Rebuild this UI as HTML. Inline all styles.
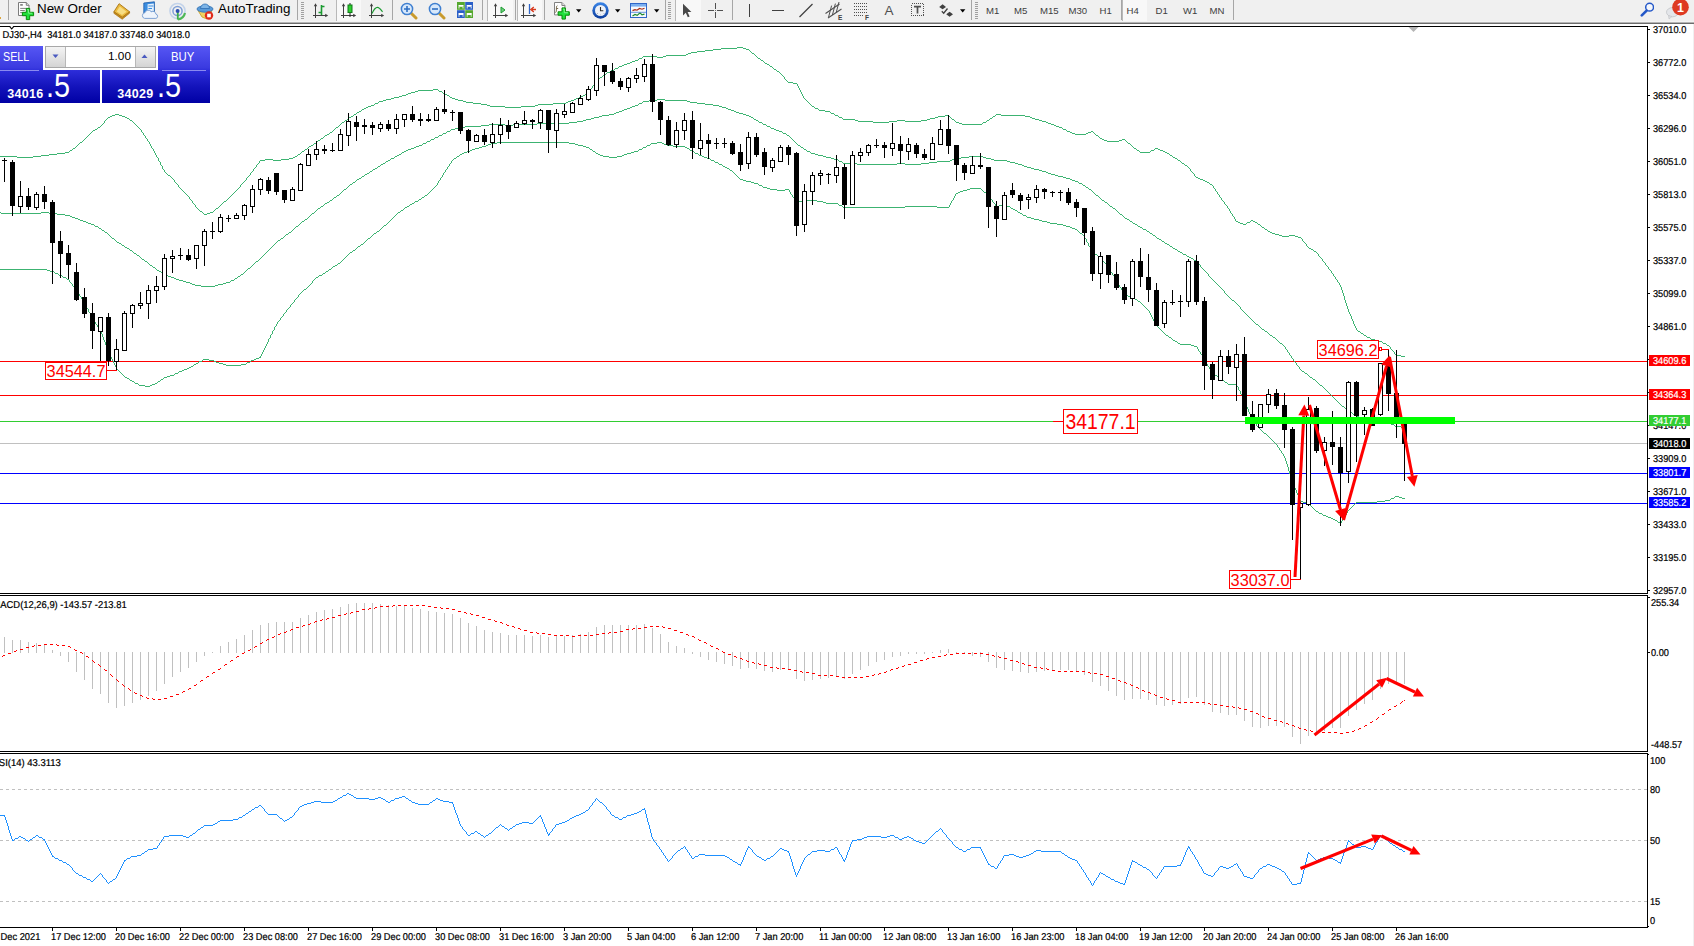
<!DOCTYPE html>
<html><head><meta charset="utf-8"><title>chart</title>
<style>
html,body{margin:0;padding:0;background:#fff;}
body{width:1694px;height:946px;position:relative;overflow:hidden;font-family:"Liberation Sans",sans-serif;}
#tb{position:absolute;left:0;top:0;width:1694px;height:22px;background:#f0f0f0;}
#tbb{position:absolute;left:0;top:21px;width:1694px;height:3px;background:linear-gradient(#f4f4f4 0 33.3%,#b4b4b4 33.3% 66.6%,#6c6c6c 66.6% 100%);}
#rs{position:absolute;left:1693px;top:24px;width:1px;height:922px;background:#f0f0f0;}
</style></head><body>
<div id="tb"><div style="position:absolute;left:0;top:17px;width:1px;height:2px;background:#dba43c"></div>
<div style="position:absolute;left:8px;top:0px;width:1px;height:20px;background:#a6a6a6"></div>
<svg style="position:absolute;left:17px;top:2px" width="19" height="19" viewBox="0 0 19 19"><path d="M1.5 0.5h7.8l2.7 2.8v10.2h-10.5z" fill="#fdfdfd" stroke="#7c7c7c"/><path d="M9.3 0.5v2.8h2.7" fill="#e4e4e4" stroke="#7c7c7c"/>
<path d="M3.2 2.9h2.6" stroke="#777" stroke-width="1.6"/><path d="M3.2 6.4h6.5M3.2 8.5h4.6M3.2 10.6h2" stroke="#808080" stroke-width="1"/>
<path d="M9.3 6.4h3.4v3.9h3.9v3.4h-3.9v3.9h-3.4v-3.9H5.4v-3.4h3.9z" fill="#20e03c" stroke="#078a07" stroke-width="1"/><path d="M10.2 7.6h1.4v3.6h3.6" stroke="#8cf59a" stroke-width="0.9" fill="none"/></svg>
<div style="position:absolute;left:37px;top:2px;font-size:13.4px;line-height:13.4px;color:#000;white-space:nowrap;">New Order</div>
<svg style="position:absolute;left:113px;top:2px" width="18" height="18" viewBox="0 0 18 18"><path d="M0.9 9.8 L6.1 1.7 L16.6 9.8 L9.2 15.4 Z" fill="#eab93e" stroke="#a87412" stroke-width="0.9"/>
<path d="M3.6 9.4 L6.8 4.4 L13.6 9.7 L9 13 Z" fill="#f7dd83"/>
<path d="M0.9 9.8 L9.2 15.4 L16.6 9.8 L16.6 11.2 L9.2 17.2 L0.9 11.3 Z" fill="#c98d1e" stroke="#a87412" stroke-width="0.7"/></svg>
<svg style="position:absolute;left:141px;top:1px" width="19" height="19" viewBox="0 0 19 19"><path d="M2.8 2 L13.4 0.8 L13.4 11 L2.8 12Z" fill="#3a8de0" stroke="#1b5aa8" stroke-width="0.8"/><path d="M6.6 3.2L12.8 2.5V10L6.6 10.6Z" fill="#e6f1fc"/><path d="M7.4 5h5M7.4 7.5h3.6" stroke="#3a8de0" stroke-width="1.2"/>
<path d="M3.6 17.4a2.9 2.9 0 0 1 0.3-5.7a3.6 3.6 0 0 1 6.4-1a3.1 3.1 0 0 1 4.6 2.4a2.2 2.2 0 0 1 0 4.3z" fill="#eef4fc" stroke="#7fa3d4" stroke-width="1"/></svg>
<svg style="position:absolute;left:168px;top:2px" width="19" height="19" viewBox="0 0 19 19"><circle cx="9.5" cy="9" r="7.6" fill="none" stroke="#c3d3ea" stroke-width="1.5"/><circle cx="9.5" cy="9" r="4.6" fill="none" stroke="#7f9fd6" stroke-width="1.5"/>
<path d="M9.8 9v8.6" stroke="#3fae46" stroke-width="1.8"/><path d="M10 17.4a8.4 8.4 0 0 0 7-6.4" stroke="#4fb856" stroke-width="2.2" fill="none"/><circle cx="9.6" cy="9" r="2" fill="#2b4fb0"/></svg>
<svg style="position:absolute;left:196px;top:1px" width="19" height="20" viewBox="0 0 19 20"><path d="M2 9.5 L16 9.5 L11 18 L6 16 Z" fill="#f2d261" stroke="#c59a1e" stroke-width="0.8"/>
<ellipse cx="9" cy="8" rx="8" ry="3.2" fill="#5a9bd8" stroke="#2f6fb3" stroke-width="0.8"/><path d="M4.5 7.5a4.5 4.5 0 0 1 9 0z" fill="#7db4e6" stroke="#2f6fb3" stroke-width="0.8"/>
<circle cx="13" cy="14.5" r="4.2" fill="#e02a1a"/><rect x="11.2" y="12.7" width="3.6" height="3.6" fill="#fff"/></svg>
<div style="position:absolute;left:218px;top:2px;font-size:13.4px;line-height:13.4px;color:#000;white-space:nowrap;">AutoTrading</div>
<div style="position:absolute;left:297px;top:0px;width:1px;height:20px;background:#a6a6a6"></div>
<div style="position:absolute;left:301px;top:2px;width:3px;height:18px;background:repeating-linear-gradient(#a0a0a0 0 1px,#f0f0f0 1px 2px)"></div>
<svg style="position:absolute;left:312px;top:2px" width="18" height="18" viewBox="0 0 18 18"><path d="M3.5 3v13M1 13.5h14" stroke="#404040" stroke-width="1" fill="none"/><path d="M3.5 1.2l-1.7 3h3.4zM16.2 13.5l-3-1.7v3.4z" fill="#404040"/><path d="M9.5 3v10M9.5 4.5h3M6.5 10.5h3" stroke="#1a9a30" stroke-width="1.6" fill="none"/></svg>
<div style="position:absolute;left:336px;top:0px;width:25px;height:21px;background:#f8f8f8;border-left:1px solid #b8b8b8;box-sizing:border-box"></div>
<svg style="position:absolute;left:340px;top:2px" width="18" height="18" viewBox="0 0 18 18"><path d="M3.5 3v13M1 13.5h14" stroke="#404040" stroke-width="1" fill="none"/><path d="M3.5 1.2l-1.7 3h3.4zM16.2 13.5l-3-1.7v3.4z" fill="#404040"/><path d="M10 1v14" stroke="#202020" stroke-width="1"/><rect x="8" y="3" width="4" height="7.5" fill="#2fd02f" stroke="#0f7a1a" stroke-width="1"/></svg>
<svg style="position:absolute;left:368px;top:2px" width="18" height="18" viewBox="0 0 18 18"><path d="M3.5 3v13M1 13.5h14" stroke="#404040" stroke-width="1" fill="none"/><path d="M3.5 1.2l-1.7 3h3.4zM16.2 13.5l-3-1.7v3.4z" fill="#404040"/><path d="M4 11.5 C6 7 8 5.4 9.6 5.4 S13 8 14.5 9.8" stroke="#1a9a30" stroke-width="1.2" fill="none"/></svg>
<div style="position:absolute;left:392px;top:0px;width:1px;height:20px;background:#a6a6a6"></div>
<svg style="position:absolute;left:400px;top:2px" width="18" height="18" viewBox="0 0 18 18"><path d="M10.5 10.5l5.5 5.5" stroke="#c99a2c" stroke-width="3" stroke-linecap="round"/><circle cx="7" cy="7" r="5.6" fill="#d7e8fb" stroke="#3f7fd0" stroke-width="1.5"/><path d="M4 7h6M7 4v6" stroke="#2f6fc4" stroke-width="1.6"/></svg>
<svg style="position:absolute;left:428px;top:2px" width="18" height="18" viewBox="0 0 18 18"><path d="M10.5 10.5l5.5 5.5" stroke="#c99a2c" stroke-width="3" stroke-linecap="round"/><circle cx="7" cy="7" r="5.6" fill="#d7e8fb" stroke="#3f7fd0" stroke-width="1.5"/><path d="M4 7h6" stroke="#2f6fc4" stroke-width="1.6"/></svg>
<svg style="position:absolute;left:457px;top:2px" width="16" height="16" viewBox="0 0 16 16"><rect x="0" y="0" width="7.8" height="7.8" fill="#55a82e"/><rect x="8.2" y="0" width="7.8" height="7.8" fill="#2a5fc8"/><rect x="0" y="8.2" width="7.8" height="7.8" fill="#2a5fc8"/><rect x="8.2" y="8.2" width="7.8" height="7.8" fill="#55a82e"/>
<path d="M1.5 3.8h5M9.7 3.8h5M1.5 12h5M9.7 12h5" stroke="#fff" stroke-width="1.8"/><path d="M2 5v1.5M6 5v1.5M10.2 5v1.5M14.2 5v1.5M2 13.2v1.5M6 13.2v1.5M10.2 13.2v1.5M14.2 13.2v1.5" stroke="#e8f0e8" stroke-width="1"/></svg>
<div style="position:absolute;left:482px;top:0px;width:1px;height:20px;background:#a6a6a6"></div>
<div style="position:absolute;left:487px;top:0px;width:26px;height:21px;background:#f8f8f8;border-left:1px solid #b8b8b8;box-sizing:border-box"></div>
<svg style="position:absolute;left:492px;top:2px" width="18" height="18" viewBox="0 0 18 18"><path d="M3.5 3v13M1 13.5h14" stroke="#404040" stroke-width="1" fill="none"/><path d="M3.5 1.2l-1.7 3h3.4zM16.2 13.5l-3-1.7v3.4z" fill="#404040"/><path d="M9 5l4 3l-4 3z" fill="#6fd07c" stroke="#1a9a30" stroke-width="1"/></svg>
<div style="position:absolute;left:515px;top:0px;width:1px;height:20px;background:#a6a6a6"></div>
<div style="position:absolute;left:517px;top:0px;width:25px;height:21px;background:#f8f8f8;border-left:1px solid #b8b8b8;box-sizing:border-box"></div>
<svg style="position:absolute;left:520px;top:2px" width="18" height="18" viewBox="0 0 18 18"><path d="M3.5 3v13M1 13.5h14" stroke="#404040" stroke-width="1" fill="none"/><path d="M3.5 1.2l-1.7 3h3.4zM16.2 13.5l-3-1.7v3.4z" fill="#404040"/><path d="M9.5 2v10" stroke="#2f66c8" stroke-width="1.3"/><path d="M16 7.5h-4M13.8 5l-3 2.5l3 2.5" stroke="#d8381c" stroke-width="1.3" fill="none"/></svg>
<div style="position:absolute;left:544px;top:0px;width:1px;height:20px;background:#a6a6a6"></div>
<svg style="position:absolute;left:553px;top:2px" width="19" height="19" viewBox="0 0 19 19"><path d="M1.5 0.5h7.4l3 3v9.4h-10.4z" fill="#fdfdfd" stroke="#808080"/><path d="M8.9 0.5v3h3" fill="#e4e4e4" stroke="#808080"/><path d="M4.4 3.5c-1 0.4-1 2-1 3.5s0 3-1 3.6M3.6 6.5h1.6" stroke="#6a5a3a" stroke-width="0.9" fill="none"/>
<path d="M9 5.9h3.4v3.9h3.9v3.4h-3.9v3.9H9v-3.9H5.1V9.8H9z" fill="#20e03c" stroke="#078a07" stroke-width="1"/><path d="M9.9 7.1h1.4v3.6h3.6" stroke="#8cf59a" stroke-width="0.9" fill="none"/></svg>
<svg style="position:absolute;left:576px;top:9px" width="6" height="4" viewBox="0 0 6 4"><polygon points="0,0.2 5.4,0.2 2.7,3.4" fill="#000"/></svg>
<svg style="position:absolute;left:591.5px;top:1.5px" width="18" height="18" viewBox="0 0 18 18"><defs><linearGradient id="ck" x1="0" y1="0" x2="0" y2="1"><stop offset="0" stop-color="#3b86e8"/><stop offset="1" stop-color="#0c3c9c"/></linearGradient></defs><circle cx="8.5" cy="8.5" r="8.2" fill="url(#ck)"/><circle cx="8.5" cy="8.5" r="5.5" fill="#eef1f6"/><path d="M8.5 5v3.8h2.8" stroke="#303030" stroke-width="1.1" fill="none"/><path d="M5 11.5h1M11.5 11.5h1M8.5 12.5v0.8" stroke="#9aa6b8" stroke-width="0.8"/></svg>
<svg style="position:absolute;left:615px;top:9px" width="6" height="4" viewBox="0 0 6 4"><polygon points="0,0.2 5.4,0.2 2.7,3.4" fill="#000"/></svg>
<svg style="position:absolute;left:630px;top:2px" width="18" height="18" viewBox="0 0 18 18"><rect x="0.5" y="1.5" width="16" height="14" fill="#f6f9fd" stroke="#2f66c8"/><rect x="1" y="2" width="15" height="2.6" fill="#79aef0"/>
<path d="M2.5 8.6l2.5-1l2 0.6l2.5-1.8l2.5 0.8l2.5-1" stroke="#a82a12" stroke-width="1.2" fill="none"/><path d="M2.5 14l2.5-1.6l2.2 1l2.8-2.6l2 2l2.5-0.6" stroke="#1a8a2a" stroke-width="1.2" fill="none"/><path d="M1 10.3h15" stroke="#5a8ad8" stroke-width="0.9"/></svg>
<svg style="position:absolute;left:654px;top:9px" width="6" height="4" viewBox="0 0 6 4"><polygon points="0,0.2 5.4,0.2 2.7,3.4" fill="#000"/></svg>
<div style="position:absolute;left:665px;top:0px;width:1px;height:20px;background:#a6a6a6"></div>
<div style="position:absolute;left:668px;top:2px;width:3px;height:18px;background:repeating-linear-gradient(#a0a0a0 0 1px,#f0f0f0 1px 2px)"></div>
<div style="position:absolute;left:675px;top:0px;width:26px;height:21px;background:#f8f8f8;border-left:1px solid #b8b8b8;box-sizing:border-box"></div>
<svg style="position:absolute;left:682px;top:3px" width="11" height="16" viewBox="0 0 11 16"><path d="M1 0.8v11.6l2.8-2.7l2 4.5l1.8-0.8l-2-4.3h3.8z" fill="#484848"/></svg>
<svg style="position:absolute;left:708px;top:3px" width="15" height="15" viewBox="0 0 15 15"><path d="M7.5 0v6M7.5 9v6M0 7.5h6M9 7.5h6" stroke="#505050" stroke-width="1"/><path d="M7.5 7v1" stroke="#707070"/></svg>
<div style="position:absolute;left:732px;top:0px;width:1px;height:20px;background:#a6a6a6"></div>
<div style="position:absolute;left:749px;top:4px;width:1px;height:13px;background:#404040"></div>
<div style="position:absolute;left:772px;top:10px;width:12px;height:1px;background:#404040"></div>
<svg style="position:absolute;left:799px;top:3px" width="14" height="15" viewBox="0 0 14 15"><path d="M0.5 14L13.5 1" stroke="#404040" stroke-width="1.2"/></svg>
<svg style="position:absolute;left:825px;top:1px" width="19" height="19" viewBox="0 0 19 19"><path d="M0.5 12.5L14.5 3M3 17L16.5 8" stroke="#505050" stroke-width="1.1"/><path d="M3.6 16L6.6 4.6M7.4 14L10.4 2.6M11.2 11.6L14 1" stroke="#505050" stroke-width="1"/><text x="13" y="19" font-size="6.5" font-weight="bold" fill="#404040" font-family="Liberation Sans, sans-serif">E</text></svg>
<svg style="position:absolute;left:854px;top:2px" width="18" height="18" viewBox="0 0 18 18"><path d="M0 1.5h14M0 4.5h14M0 7.5h14M0 10.5h14M0 13.5h9" stroke="#505050" stroke-width="1" stroke-dasharray="1 1" shape-rendering="crispEdges"/><text x="11" y="17.5" font-size="6.5" font-weight="bold" fill="#404040" font-family="Liberation Sans, sans-serif">F</text></svg>
<div style="position:absolute;left:884.5px;top:4px;font-size:13.5px;line-height:13.5px;color:#505050;white-space:nowrap;">A</div>
<svg style="position:absolute;left:911px;top:2px" width="14" height="15" viewBox="0 0 14 15"><rect x="0.5" y="1.5" width="12" height="12" fill="none" stroke="#505050" stroke-dasharray="1 1" shape-rendering="crispEdges"/><path d="M3 4.6h7M6.5 4.6v7" stroke="#505050" stroke-width="1.7"/></svg>
<svg style="position:absolute;left:938px;top:2px" width="16" height="17" viewBox="0 0 16 17"><path d="M1.2 4.9l3.4-2.6l3.4 2.6l-3.4 2.4z" fill="#404040"/><path d="M8.2 12.2l3.4-2.4l3.4 2.4l-3.4 2.6z" fill="#404040"/><path d="M3.8 9.3l1.9 1.9l3.8-4.7" stroke="#404040" stroke-width="1.3" fill="none"/></svg>
<svg style="position:absolute;left:960px;top:9px" width="6" height="4" viewBox="0 0 6 4"><polygon points="0,0.2 5.4,0.2 2.7,3.4" fill="#000"/></svg>
<div style="position:absolute;left:971px;top:0px;width:1px;height:20px;background:#a6a6a6"></div>
<div style="position:absolute;left:975px;top:2px;width:3px;height:18px;background:repeating-linear-gradient(#a0a0a0 0 1px,#f0f0f0 1px 2px)"></div>
<div style="position:absolute;left:1121px;top:0px;width:1px;height:20px;background:#a6a6a6"></div>
<div style="position:absolute;left:1122px;top:0px;width:25px;height:21px;background:#f8f8f8;border-left:1px solid #b8b8b8;box-sizing:border-box"></div>
<div style="position:absolute;left:986px;top:6px;font-size:9.6px;line-height:9.6px;color:#404040;white-space:nowrap;">M1</div>
<div style="position:absolute;left:1014px;top:6px;font-size:9.6px;line-height:9.6px;color:#404040;white-space:nowrap;">M5</div>
<div style="position:absolute;left:1040px;top:6px;font-size:9.6px;line-height:9.6px;color:#404040;white-space:nowrap;">M15</div>
<div style="position:absolute;left:1068.5px;top:6px;font-size:9.6px;line-height:9.6px;color:#404040;white-space:nowrap;">M30</div>
<div style="position:absolute;left:1099.5px;top:6px;font-size:9.6px;line-height:9.6px;color:#404040;white-space:nowrap;">H1</div>
<div style="position:absolute;left:1126.5px;top:6px;font-size:9.6px;line-height:9.6px;color:#404040;white-space:nowrap;">H4</div>
<div style="position:absolute;left:1155.5px;top:6px;font-size:9.6px;line-height:9.6px;color:#404040;white-space:nowrap;">D1</div>
<div style="position:absolute;left:1183px;top:6px;font-size:9.6px;line-height:9.6px;color:#404040;white-space:nowrap;">W1</div>
<div style="position:absolute;left:1209.5px;top:6px;font-size:9.6px;line-height:9.6px;color:#404040;white-space:nowrap;">MN</div>
<div style="position:absolute;left:1233px;top:0px;width:1px;height:20px;background:#a6a6a6"></div>
<svg style="position:absolute;left:1640px;top:1px" width="14" height="17" viewBox="0 0 14 17"><circle cx="9.6" cy="6.2" r="3.9" fill="#f4f7fc" stroke="#2458c8" stroke-width="1.5"/><path d="M6.6 9.6L1.8 14.4" stroke="#2458c8" stroke-width="2.6" stroke-linecap="round"/></svg>
<svg style="position:absolute;left:1664px;top:0px" width="30" height="22" viewBox="0 0 30 22"><ellipse cx="8.5" cy="12.2" rx="6" ry="4.6" fill="#e4e6ea" stroke="#c2c4c8" stroke-width="0.8"/><path d="M4.5 15.5l0.5 3.5l3-2.5z" fill="#dcdee2" stroke="#c2c4c8" stroke-width="0.6"/>
<circle cx="16.5" cy="7.2" r="8.3" fill="#de3a22"/><text x="16.5" y="11.8" font-size="12.5" font-weight="bold" fill="#fff" text-anchor="middle" font-family="Liberation Sans, sans-serif">1</text></svg></div><div id="tbb"></div><div id="rs"></div>
<svg width="1694" height="946" viewBox="0 0 1694 946" style="position:absolute;left:0;top:0" font-family="Liberation Sans, sans-serif"><g shape-rendering="crispEdges"><rect x="0" y="361" width="1647" height="1" fill="#ff0000"/><rect x="0" y="395" width="1647" height="1" fill="#ff0000"/><rect x="0" y="421" width="1647" height="1" fill="#32cd32"/><rect x="0" y="443" width="1647" height="1" fill="#c0c0c0"/><rect x="0" y="473" width="1647" height="1" fill="#0000ff"/><rect x="0" y="503" width="1647" height="1" fill="#0000ff"/><path d="M737 47.5h6M721 48.5h16M743 48.5h3M713 49.5h8M746 49.5h3M705 50.5h8M749 50.5h1M697 51.5h8M750 51.5h1M691 52.5h6M751 52.5h1M688 53.5h3M752 53.5h2M686 54.5h2M754 54.5h1M666 55.5h20M755 55.5h1M643 56.5h14M663 56.5h3M756 56.5h1M642 57.5h1M657 57.5h6M757 57.5h1M639 58.5h3M758 58.5h2M638 59.5h1M760 59.5h1M635 60.5h3M761 60.5h2M632 61.5h3M763 61.5h1M630 62.5h2M764 62.5h1M627 63.5h3M765 63.5h2M624 64.5h3M767 64.5h2M622 65.5h2M769 65.5h1M619 66.5h3M770 66.5h2M618 67.5h1M772 67.5h1M615 68.5h3M773 68.5h1M614 69.5h1M774 69.5h2M611 70.5h3M776 70.5h1M610 71.5h1M777 71.5h2M607 72.5h3M779 72.5h1M606 73.5h1M780 73.5h1M604 74.5h2M781 74.5h1M603 75.5h1M782 75.5h1M602 76.5h1M783 76.5h1M600 77.5h2M784 77.5h1M599 78.5h1M784 78.5h1M598 79.5h1M785 79.5h1M597 80.5h1M786 80.5h1M596 81.5h1M787 81.5h1M595 82.5h1M788 82.5h5M595 83.5h1M793 83.5h4M594 84.5h1M797 84.5h1M593 85.5h1M797 85.5h1M592 86.5h1M798 86.5h1M592 87.5h1M798 87.5h1M591 88.5h1M799 88.5h1M433 89.5h5M590 89.5h1M799 89.5h1M418 90.5h15M438 90.5h1M589 90.5h1M800 90.5h1M415 91.5h3M439 91.5h3M589 91.5h1M800 91.5h1M411 92.5h4M442 92.5h1M588 92.5h1M801 92.5h1M408 93.5h3M443 93.5h2M586 93.5h2M801 93.5h1M406 94.5h2M445 94.5h2M585 94.5h1M802 94.5h1M402 95.5h4M447 95.5h2M583 95.5h2M802 95.5h1M399 96.5h3M449 96.5h1M581 96.5h2M803 96.5h1M394 97.5h5M450 97.5h2M579 97.5h2M803 97.5h1M391 98.5h3M452 98.5h3M576 98.5h3M804 98.5h1M386 99.5h5M455 99.5h3M574 99.5h2M805 99.5h1M383 100.5h3M458 100.5h5M571 100.5h3M806 100.5h1M379 101.5h4M463 101.5h3M568 101.5h3M807 101.5h1M378 102.5h1M466 102.5h7M566 102.5h2M808 102.5h1M375 103.5h3M473 103.5h8M553 103.5h13M809 103.5h1M374 104.5h1M481 104.5h6M538 104.5h15M810 104.5h1M371 105.5h3M487 105.5h3M535 105.5h3M811 105.5h1M368 106.5h3M490 106.5h15M521 106.5h14M812 106.5h2M366 107.5h2M505 107.5h16M814 107.5h1M364 108.5h2M815 108.5h3M362 109.5h2M818 109.5h1M361 110.5h1M819 110.5h6M359 111.5h2M825 111.5h5M357 112.5h2M830 112.5h1M356 113.5h1M831 113.5h3M115 114.5h4M354 114.5h2M834 114.5h1M996 114.5h5M112 115.5h3M119 115.5h3M353 115.5h1M835 115.5h3M945 115.5h4M995 115.5h1M1001 115.5h24M110 116.5h2M122 116.5h3M351 116.5h2M838 116.5h1M938 116.5h7M949 116.5h1M993 116.5h2M1025 116.5h5M108 117.5h2M125 117.5h2M349 117.5h2M839 117.5h3M935 117.5h3M950 117.5h1M992 117.5h1M1030 117.5h2M107 118.5h1M127 118.5h2M348 118.5h1M842 118.5h1M930 118.5h5M951 118.5h1M990 118.5h2M1032 118.5h3M106 119.5h1M129 119.5h1M347 119.5h1M843 119.5h12M927 119.5h3M952 119.5h2M989 119.5h1M1035 119.5h4M105 120.5h1M130 120.5h2M345 120.5h2M855 120.5h3M897 120.5h8M921 120.5h6M954 120.5h1M987 120.5h2M1039 120.5h3M104 121.5h1M132 121.5h1M344 121.5h1M858 121.5h15M889 121.5h8M905 121.5h16M955 121.5h1M986 121.5h1M1042 121.5h4M104 122.5h1M133 122.5h1M342 122.5h2M873 122.5h16M956 122.5h3M983 122.5h3M1046 122.5h2M103 123.5h1M134 123.5h1M341 123.5h1M959 123.5h3M982 123.5h1M1048 123.5h3M102 124.5h1M135 124.5h1M340 124.5h1M962 124.5h20M1051 124.5h3M101 125.5h1M136 125.5h1M339 125.5h1M1054 125.5h2M100 126.5h1M137 126.5h1M338 126.5h1M1056 126.5h3M98 127.5h2M138 127.5h1M336 127.5h2M1059 127.5h3M97 128.5h1M139 128.5h1M335 128.5h1M1062 128.5h1M95 129.5h2M140 129.5h1M334 129.5h1M1063 129.5h3M93 130.5h2M141 130.5h1M333 130.5h1M1066 130.5h1M92 131.5h1M141 131.5h1M332 131.5h1M1067 131.5h3M1091 131.5h2M91 132.5h1M142 132.5h1M330 132.5h2M1070 132.5h2M1088 132.5h3M1093 132.5h1M90 133.5h1M143 133.5h1M329 133.5h1M1072 133.5h3M1086 133.5h2M1094 133.5h1M89 134.5h1M143 134.5h1M327 134.5h2M1075 134.5h11M1095 134.5h1M88 135.5h1M144 135.5h1M325 135.5h2M1096 135.5h2M87 136.5h1M145 136.5h1M324 136.5h1M1098 136.5h1M86 137.5h1M145 137.5h1M323 137.5h1M1099 137.5h1M85 138.5h1M146 138.5h1M321 138.5h2M1100 138.5h2M84 139.5h1M147 139.5h1M320 139.5h1M1102 139.5h2M1122 139.5h3M83 140.5h1M147 140.5h1M318 140.5h2M1104 140.5h3M1119 140.5h3M1125 140.5h1M82 141.5h1M148 141.5h1M317 141.5h1M1107 141.5h12M1126 141.5h1M80 142.5h2M149 142.5h1M316 142.5h1M1127 142.5h1M79 143.5h1M149 143.5h1M314 143.5h2M1128 143.5h2M78 144.5h1M150 144.5h1M313 144.5h1M1130 144.5h1M77 145.5h1M150 145.5h1M311 145.5h2M1131 145.5h1M76 146.5h1M151 146.5h1M309 146.5h2M1132 146.5h1M75 147.5h1M151 147.5h1M308 147.5h1M1133 147.5h1M73 148.5h2M152 148.5h1M307 148.5h1M1134 148.5h2M1155 148.5h3M72 149.5h1M153 149.5h1M305 149.5h2M1136 149.5h1M1154 149.5h1M1158 149.5h2M70 150.5h2M153 150.5h1M304 150.5h1M1137 150.5h2M1151 150.5h3M1160 150.5h3M69 151.5h1M154 151.5h1M302 151.5h2M1139 151.5h1M1150 151.5h1M1163 151.5h2M65 152.5h4M154 152.5h1M301 152.5h1M1140 152.5h10M1165 152.5h2M57 153.5h8M155 153.5h1M300 153.5h1M1167 153.5h2M49 154.5h8M155 154.5h1M298 154.5h2M1169 154.5h1M41 155.5h8M156 155.5h1M297 155.5h1M1170 155.5h2M0 156.5h17M33 156.5h8M156 156.5h1M295 156.5h2M1172 156.5h1M17 157.5h16M157 157.5h1M293 157.5h2M1173 157.5h2M158 158.5h1M289 158.5h4M1175 158.5h2M158 159.5h1M265 159.5h8M281 159.5h8M1177 159.5h1M158 160.5h1M260 160.5h5M273 160.5h8M1178 160.5h2M159 161.5h1M259 161.5h1M1180 161.5h1M160 162.5h1M259 162.5h1M1181 162.5h1M160 163.5h1M258 163.5h1M1182 163.5h2M160 164.5h1M257 164.5h1M1184 164.5h1M161 165.5h1M256 165.5h1M1185 165.5h2M162 166.5h1M256 166.5h1M1187 166.5h1M162 167.5h1M255 167.5h1M1188 167.5h1M162 168.5h1M254 168.5h1M1189 168.5h1M163 169.5h1M253 169.5h1M1190 169.5h1M164 170.5h1M253 170.5h1M1190 170.5h1M164 171.5h1M252 171.5h1M1191 171.5h1M165 172.5h1M251 172.5h1M1192 172.5h1M166 173.5h1M250 173.5h1M1193 173.5h1M167 174.5h1M250 174.5h1M1194 174.5h1M168 175.5h2M249 175.5h1M1194 175.5h1M170 176.5h1M248 176.5h1M1195 176.5h1M171 177.5h1M247 177.5h1M1196 177.5h2M172 178.5h1M246 178.5h1M1198 178.5h2M173 179.5h1M246 179.5h1M1200 179.5h3M174 180.5h1M245 180.5h1M1203 180.5h2M174 181.5h1M244 181.5h1M1205 181.5h2M175 182.5h1M243 182.5h1M1207 182.5h2M176 183.5h1M242 183.5h1M1209 183.5h1M177 184.5h1M241 184.5h1M1210 184.5h2M178 185.5h1M240 185.5h1M1212 185.5h1M178 186.5h1M240 186.5h1M1213 186.5h1M179 187.5h1M239 187.5h1M1213 187.5h1M180 188.5h1M238 188.5h1M1214 188.5h1M181 189.5h1M237 189.5h1M1215 189.5h1M182 190.5h1M236 190.5h1M1215 190.5h1M183 191.5h1M235 191.5h1M1216 191.5h1M184 192.5h1M234 192.5h1M1217 192.5h1M185 193.5h1M233 193.5h1M1217 193.5h1M186 194.5h1M232 194.5h1M1218 194.5h1M187 195.5h1M231 195.5h1M1219 195.5h1M188 196.5h1M230 196.5h1M1219 196.5h1M189 197.5h1M229 197.5h1M1220 197.5h1M189 198.5h1M228 198.5h1M1221 198.5h1M190 199.5h1M227 199.5h1M1221 199.5h1M191 200.5h1M226 200.5h1M1222 200.5h1M192 201.5h1M224 201.5h2M1223 201.5h1M192 202.5h1M223 202.5h1M1224 202.5h1M193 203.5h1M222 203.5h1M1224 203.5h1M194 204.5h1M221 204.5h1M1225 204.5h1M195 205.5h1M220 205.5h1M1226 205.5h1M195 206.5h1M219 206.5h1M1227 206.5h1M196 207.5h1M218 207.5h1M1227 207.5h1M197 208.5h1M216 208.5h2M1228 208.5h1M198 209.5h1M215 209.5h1M1229 209.5h1M199 210.5h1M214 210.5h1M1229 210.5h1M200 211.5h2M213 211.5h1M1230 211.5h1M202 212.5h1M210 212.5h3M1230 212.5h1M203 213.5h1M207 213.5h3M1231 213.5h1M204 214.5h3M1232 214.5h1M1232 215.5h1M1233 216.5h1M1234 217.5h1M1234 218.5h1M1235 219.5h1M1235 220.5h1M1251 220.5h2M1236 221.5h2M1250 221.5h1M1253 221.5h2M1238 222.5h2M1247 222.5h3M1255 222.5h2M1240 223.5h3M1246 223.5h1M1257 223.5h1M1243 224.5h3M1258 224.5h2M1260 225.5h1M1261 226.5h1M1262 227.5h2M1264 228.5h1M1265 229.5h2M1267 230.5h1M1268 231.5h2M1270 232.5h2M1272 233.5h3M1275 234.5h4M1279 235.5h3M1289 235.5h6M1282 236.5h7M1295 236.5h3M1298 237.5h3M1301 238.5h1M1302 239.5h1M1302 240.5h1M1303 241.5h1M1304 242.5h1M1305 243.5h1M1306 244.5h1M1306 245.5h1M1307 246.5h1M1308 247.5h1M1309 248.5h2M1311 249.5h2M1313 250.5h1M1314 251.5h2M1316 252.5h1M1317 253.5h1M1318 254.5h1M1318 255.5h1M1319 256.5h1M1320 257.5h1M1321 258.5h1M1322 259.5h1M1322 260.5h1M1323 261.5h1M1324 262.5h1M1325 263.5h1M1325 264.5h1M1326 265.5h1M1327 266.5h1M1328 267.5h1M1328 268.5h1M1329 269.5h1M1330 270.5h1M1331 271.5h1M1331 272.5h1M1332 273.5h1M1333 274.5h1M1333 275.5h1M1334 276.5h1M1335 277.5h1M1335 278.5h1M1336 279.5h1M1337 280.5h1M1337 281.5h1M1338 282.5h1M1339 283.5h1M1339 284.5h1M1340 285.5h1M1340 286.5h1M1341 287.5h1M1341 288.5h1M1341 289.5h1M1342 290.5h1M1342 291.5h1M1342 292.5h1M1343 293.5h1M1343 294.5h1M1343 295.5h1M1344 296.5h1M1344 297.5h1M1344 298.5h1M1344 299.5h1M1345 300.5h1M1345 301.5h1M1345 302.5h1M1346 303.5h1M1346 304.5h1M1346 305.5h1M1347 306.5h1M1347 307.5h1M1347 308.5h1M1348 309.5h1M1348 310.5h1M1348 311.5h1M1349 312.5h1M1349 313.5h1M1350 314.5h1M1350 315.5h1M1351 316.5h1M1351 317.5h1M1351 318.5h1M1352 319.5h1M1352 320.5h1M1353 321.5h1M1353 322.5h1M1353 323.5h1M1354 324.5h1M1354 325.5h1M1355 326.5h1M1355 327.5h1M1356 328.5h1M1356 329.5h1M1357 330.5h1M1358 331.5h2M1360 332.5h1M1361 333.5h2M1363 334.5h1M1364 335.5h2M1366 336.5h1M1367 337.5h3M1370 338.5h1M1371 339.5h4M1375 340.5h3M1378 341.5h4M1382 342.5h1M1383 343.5h3M1386 344.5h1M1387 345.5h2M1389 346.5h1M1390 347.5h1M1390 348.5h1M1391 349.5h1M1392 350.5h1M1393 351.5h1M1394 352.5h1M1394 353.5h1M1395 354.5h1M1396 355.5h5M1401 356.5h4" fill="none" stroke="#3cb371" stroke-width="1"/><path d="M657 99.5h8M649 100.5h8M665 100.5h22M643 101.5h6M687 101.5h3M642 102.5h1M690 102.5h7M639 103.5h3M697 103.5h8M638 104.5h1M705 104.5h8M635 105.5h3M713 105.5h6M632 106.5h3M719 106.5h3M630 107.5h2M722 107.5h4M627 108.5h3M726 108.5h2M624 109.5h3M728 109.5h3M622 110.5h2M731 110.5h3M619 111.5h3M734 111.5h2M616 112.5h3M736 112.5h3M614 113.5h2M739 113.5h4M609 114.5h5M743 114.5h3M602 115.5h7M746 115.5h3M599 116.5h3M749 116.5h2M594 117.5h5M751 117.5h2M591 118.5h3M753 118.5h1M586 119.5h5M754 119.5h2M583 120.5h3M756 120.5h2M577 121.5h6M758 121.5h1M569 122.5h8M759 122.5h3M537 123.5h32M762 123.5h1M489 124.5h16M513 124.5h24M763 124.5h3M481 125.5h8M505 125.5h8M766 125.5h1M465 126.5h16M767 126.5h3M458 127.5h7M770 127.5h1M455 128.5h3M771 128.5h3M451 129.5h4M774 129.5h2M450 130.5h1M776 130.5h3M447 131.5h3M779 131.5h3M446 132.5h1M782 132.5h1M443 133.5h3M783 133.5h3M442 134.5h1M786 134.5h1M439 135.5h3M787 135.5h2M438 136.5h1M789 136.5h1M435 137.5h3M790 137.5h1M434 138.5h1M791 138.5h1M431 139.5h3M792 139.5h1M430 140.5h1M793 140.5h1M427 141.5h3M794 141.5h1M426 142.5h1M795 142.5h1M423 143.5h3M796 143.5h1M422 144.5h1M797 144.5h1M419 145.5h3M798 145.5h2M416 146.5h3M800 146.5h1M414 147.5h2M801 147.5h2M411 148.5h3M803 148.5h1M408 149.5h3M804 149.5h2M406 150.5h2M806 150.5h1M404 151.5h2M807 151.5h3M402 152.5h2M810 152.5h1M401 153.5h1M811 153.5h4M399 154.5h2M815 154.5h3M397 155.5h2M818 155.5h5M395 156.5h2M823 156.5h3M969 156.5h14M394 157.5h1M826 157.5h5M961 157.5h8M983 157.5h3M391 158.5h3M831 158.5h3M955 158.5h6M986 158.5h5M390 159.5h1M834 159.5h4M952 159.5h3M991 159.5h3M388 160.5h2M838 160.5h1M950 160.5h2M994 160.5h13M386 161.5h2M839 161.5h3M937 161.5h13M1007 161.5h3M385 162.5h1M842 162.5h1M929 162.5h8M1010 162.5h5M383 163.5h2M843 163.5h14M897 163.5h8M921 163.5h8M1015 163.5h3M381 164.5h2M857 164.5h40M905 164.5h16M1018 164.5h4M380 165.5h1M1022 165.5h2M378 166.5h2M1024 166.5h3M377 167.5h1M1027 167.5h4M375 168.5h2M1031 168.5h3M373 169.5h2M1034 169.5h5M372 170.5h1M1039 170.5h3M370 171.5h2M1042 171.5h4M369 172.5h1M1046 172.5h2M367 173.5h2M1048 173.5h3M365 174.5h2M1051 174.5h4M364 175.5h1M1055 175.5h3M362 176.5h2M1058 176.5h5M361 177.5h1M1063 177.5h3M359 178.5h2M1066 178.5h4M357 179.5h2M1070 179.5h2M356 180.5h1M1072 180.5h3M355 181.5h1M1075 181.5h3M353 182.5h2M1078 182.5h1M352 183.5h1M1079 183.5h3M350 184.5h2M1082 184.5h1M349 185.5h1M1083 185.5h2M348 186.5h1M1085 186.5h1M347 187.5h1M1086 187.5h2M346 188.5h1M1088 188.5h1M344 189.5h2M1089 189.5h2M343 190.5h1M1091 190.5h1M342 191.5h1M1092 191.5h1M341 192.5h1M1093 192.5h1M340 193.5h1M1094 193.5h1M339 194.5h1M1095 194.5h1M337 195.5h2M1096 195.5h2M336 196.5h1M1098 196.5h1M334 197.5h2M1099 197.5h1M333 198.5h1M1100 198.5h1M332 199.5h1M1101 199.5h1M330 200.5h2M1102 200.5h2M329 201.5h1M1104 201.5h1M327 202.5h2M1105 202.5h2M325 203.5h2M1107 203.5h1M324 204.5h1M1108 204.5h1M323 205.5h1M1109 205.5h1M321 206.5h2M1110 206.5h2M320 207.5h1M1112 207.5h1M318 208.5h2M1113 208.5h2M317 209.5h1M1115 209.5h1M316 210.5h1M1116 210.5h1M315 211.5h1M1117 211.5h1M0 212.5h1M41 212.5h8M314 212.5h1M1118 212.5h1M1 213.5h40M49 213.5h8M312 213.5h2M1119 213.5h1M57 214.5h8M311 214.5h1M1120 214.5h2M65 215.5h5M310 215.5h1M1122 215.5h1M70 216.5h2M309 216.5h1M1123 216.5h1M72 217.5h3M308 217.5h1M1124 217.5h1M75 218.5h3M307 218.5h1M1125 218.5h2M78 219.5h2M305 219.5h2M1127 219.5h2M80 220.5h3M304 220.5h1M1129 220.5h1M83 221.5h3M302 221.5h2M1130 221.5h2M86 222.5h2M301 222.5h1M1132 222.5h1M88 223.5h3M300 223.5h1M1133 223.5h2M91 224.5h3M299 224.5h1M1135 224.5h2M94 225.5h1M298 225.5h1M1137 225.5h1M95 226.5h3M296 226.5h2M1138 226.5h2M98 227.5h1M295 227.5h1M1140 227.5h2M99 228.5h2M294 228.5h1M1142 228.5h1M101 229.5h1M293 229.5h1M1143 229.5h3M102 230.5h2M292 230.5h1M1146 230.5h1M104 231.5h1M291 231.5h1M1147 231.5h2M105 232.5h2M289 232.5h2M1149 232.5h1M107 233.5h1M288 233.5h1M1150 233.5h2M108 234.5h1M286 234.5h2M1152 234.5h1M109 235.5h1M285 235.5h1M1153 235.5h2M110 236.5h1M284 236.5h1M1155 236.5h1M111 237.5h1M283 237.5h1M1156 237.5h1M112 238.5h2M281 238.5h2M1157 238.5h2M114 239.5h1M280 239.5h1M1159 239.5h2M115 240.5h1M278 240.5h2M1161 240.5h1M116 241.5h1M277 241.5h1M1162 241.5h2M117 242.5h2M276 242.5h1M1164 242.5h1M119 243.5h2M275 243.5h1M1165 243.5h2M121 244.5h1M274 244.5h1M1167 244.5h2M122 245.5h2M273 245.5h1M1169 245.5h1M124 246.5h1M272 246.5h1M1170 246.5h2M125 247.5h2M271 247.5h1M1172 247.5h1M127 248.5h2M270 248.5h1M1173 248.5h2M129 249.5h1M269 249.5h1M1175 249.5h2M130 250.5h2M268 250.5h1M1177 250.5h1M132 251.5h1M267 251.5h1M1178 251.5h2M133 252.5h1M266 252.5h1M1180 252.5h2M134 253.5h2M265 253.5h1M1182 253.5h1M136 254.5h1M264 254.5h1M1183 254.5h3M137 255.5h2M263 255.5h1M1186 255.5h1M139 256.5h1M262 256.5h1M1187 256.5h2M140 257.5h1M261 257.5h1M1189 257.5h2M141 258.5h1M260 258.5h1M1191 258.5h2M142 259.5h2M259 259.5h1M1193 259.5h1M144 260.5h1M258 260.5h1M1194 260.5h2M145 261.5h2M256 261.5h2M1196 261.5h1M147 262.5h1M255 262.5h1M1197 262.5h1M148 263.5h1M254 263.5h1M1198 263.5h1M149 264.5h1M253 264.5h1M1199 264.5h1M150 265.5h2M252 265.5h1M1200 265.5h1M152 266.5h1M251 266.5h1M1200 266.5h1M153 267.5h2M250 267.5h1M1201 267.5h1M155 268.5h1M248 268.5h2M1202 268.5h1M156 269.5h1M247 269.5h1M1203 269.5h1M157 270.5h2M246 270.5h1M1204 270.5h1M159 271.5h2M245 271.5h1M1205 271.5h1M161 272.5h1M244 272.5h1M1206 272.5h1M162 273.5h2M243 273.5h1M1207 273.5h1M164 274.5h2M241 274.5h2M1208 274.5h1M166 275.5h2M240 275.5h1M1208 275.5h1M168 276.5h3M238 276.5h2M1209 276.5h1M171 277.5h3M237 277.5h1M1210 277.5h1M174 278.5h2M235 278.5h2M1211 278.5h1M176 279.5h3M234 279.5h1M1212 279.5h1M179 280.5h4M231 280.5h3M1213 280.5h1M183 281.5h3M230 281.5h1M1214 281.5h1M186 282.5h4M226 282.5h4M1215 282.5h1M190 283.5h2M223 283.5h3M1216 283.5h1M192 284.5h3M218 284.5h5M1217 284.5h1M195 285.5h6M215 285.5h3M1218 285.5h1M201 286.5h14M1219 286.5h1M1220 287.5h1M1221 288.5h1M1222 289.5h1M1223 290.5h1M1224 291.5h1M1224 292.5h1M1225 293.5h1M1226 294.5h1M1227 295.5h1M1228 296.5h1M1229 297.5h1M1230 298.5h1M1231 299.5h1M1232 300.5h2M1234 301.5h1M1235 302.5h1M1236 303.5h1M1237 304.5h1M1238 305.5h1M1239 306.5h1M1240 307.5h1M1240 308.5h1M1241 309.5h1M1242 310.5h1M1243 311.5h1M1244 312.5h1M1245 313.5h1M1246 314.5h1M1247 315.5h1M1248 316.5h1M1249 317.5h1M1250 318.5h1M1251 319.5h1M1252 320.5h1M1253 321.5h1M1254 322.5h1M1255 323.5h1M1256 324.5h2M1258 325.5h1M1259 326.5h1M1260 327.5h1M1261 328.5h1M1262 329.5h2M1264 330.5h1M1265 331.5h2M1267 332.5h1M1268 333.5h1M1269 334.5h1M1270 335.5h2M1272 336.5h1M1273 337.5h2M1275 338.5h1M1276 339.5h1M1277 340.5h1M1278 341.5h1M1279 342.5h1M1280 343.5h2M1282 344.5h1M1283 345.5h1M1284 346.5h1M1285 347.5h1M1285 348.5h1M1286 349.5h1M1287 350.5h1M1287 351.5h1M1288 352.5h1M1289 353.5h1M1289 354.5h1M1290 355.5h1M1291 356.5h1M1291 357.5h1M1292 358.5h1M1293 359.5h1M1293 360.5h1M1294 361.5h1M1295 362.5h1M1296 363.5h1M1296 364.5h1M1297 365.5h1M1298 366.5h1M1299 367.5h1M1299 368.5h1M1300 369.5h1M1301 370.5h1M1302 371.5h2M1304 372.5h1M1305 373.5h2M1307 374.5h1M1308 375.5h1M1309 376.5h1M1310 377.5h2M1312 378.5h1M1313 379.5h2M1315 380.5h1M1316 381.5h1M1317 382.5h1M1318 383.5h1M1319 384.5h1M1320 385.5h2M1322 386.5h1M1323 387.5h1M1324 388.5h1M1325 389.5h1M1326 390.5h1M1327 391.5h1M1328 392.5h1M1329 393.5h1M1330 394.5h1M1331 395.5h1M1332 396.5h1M1333 397.5h1M1334 398.5h1M1335 399.5h1M1336 400.5h1M1337 401.5h1M1338 402.5h1M1339 403.5h1M1340 404.5h1M1341 405.5h1M1342 406.5h2M1344 407.5h1M1345 408.5h2M1347 409.5h1M1348 410.5h1M1349 411.5h1M1350 412.5h2M1352 413.5h1M1353 414.5h2M1355 415.5h1M1356 416.5h3M1359 417.5h3M1362 418.5h5M1367 419.5h3M1370 420.5h7M1377 421.5h8M1385 422.5h5M1390 423.5h1M1391 424.5h3M1394 425.5h1M1395 426.5h6M1401 427.5h4" fill="none" stroke="#3cb371" stroke-width="1"/><path d="M497 142.5h72M657 142.5h5M491 143.5h6M569 143.5h6M651 143.5h6M662 143.5h2M488 144.5h3M575 144.5h3M650 144.5h1M664 144.5h3M486 145.5h2M578 145.5h5M647 145.5h3M667 145.5h6M482 146.5h4M583 146.5h3M646 146.5h1M673 146.5h12M479 147.5h3M586 147.5h3M643 147.5h3M685 147.5h2M475 148.5h4M589 148.5h1M642 148.5h1M687 148.5h2M472 149.5h3M590 149.5h2M639 149.5h3M689 149.5h1M470 150.5h2M592 150.5h1M638 150.5h1M690 150.5h2M467 151.5h3M593 151.5h2M634 151.5h4M692 151.5h2M464 152.5h3M595 152.5h1M631 152.5h3M694 152.5h1M462 153.5h2M596 153.5h2M627 153.5h4M695 153.5h3M460 154.5h2M598 154.5h2M624 154.5h3M698 154.5h1M459 155.5h1M600 155.5h3M622 155.5h2M699 155.5h3M457 156.5h2M603 156.5h6M617 156.5h5M702 156.5h2M456 157.5h1M609 157.5h8M704 157.5h3M454 158.5h2M707 158.5h3M453 159.5h1M710 159.5h1M452 160.5h1M711 160.5h3M451 161.5h1M714 161.5h1M451 162.5h1M715 162.5h3M450 163.5h1M718 163.5h1M449 164.5h1M719 164.5h3M449 165.5h1M722 165.5h1M448 166.5h1M723 166.5h2M447 167.5h1M725 167.5h2M447 168.5h1M727 168.5h2M446 169.5h1M729 169.5h1M445 170.5h1M730 170.5h2M445 171.5h1M732 171.5h1M444 172.5h1M733 172.5h1M443 173.5h1M734 173.5h1M443 174.5h1M735 174.5h1M442 175.5h1M736 175.5h1M442 176.5h1M737 176.5h1M441 177.5h1M738 177.5h1M440 178.5h1M739 178.5h1M440 179.5h1M740 179.5h3M439 180.5h1M743 180.5h3M438 181.5h1M746 181.5h5M438 182.5h1M751 182.5h3M437 183.5h1M754 183.5h4M437 184.5h1M758 184.5h1M436 185.5h1M759 185.5h3M435 186.5h1M762 186.5h1M434 187.5h1M763 187.5h4M433 188.5h1M767 188.5h3M970 188.5h11M432 189.5h1M770 189.5h7M785 189.5h4M967 189.5h3M981 189.5h1M431 190.5h1M777 190.5h8M789 190.5h1M963 190.5h4M982 190.5h1M430 191.5h1M789 191.5h1M960 191.5h3M983 191.5h1M429 192.5h1M790 192.5h1M958 192.5h2M984 192.5h2M428 193.5h1M790 193.5h1M956 193.5h2M986 193.5h1M427 194.5h1M791 194.5h1M955 194.5h1M987 194.5h1M425 195.5h2M792 195.5h1M955 195.5h1M988 195.5h1M424 196.5h1M792 196.5h1M954 196.5h1M989 196.5h1M422 197.5h2M793 197.5h1M954 197.5h1M989 197.5h1M421 198.5h1M794 198.5h1M953 198.5h1M990 198.5h1M419 199.5h2M794 199.5h1M953 199.5h1M991 199.5h1M418 200.5h1M795 200.5h1M802 200.5h15M952 200.5h1M992 200.5h1M415 201.5h3M795 201.5h1M799 201.5h3M817 201.5h6M951 201.5h1M992 201.5h1M414 202.5h1M796 202.5h3M823 202.5h3M951 202.5h1M993 202.5h1M412 203.5h2M826 203.5h12M950 203.5h1M994 203.5h1M410 204.5h2M838 204.5h1M950 204.5h1M995 204.5h1M1002 204.5h4M409 205.5h1M839 205.5h3M949 205.5h1M995 205.5h1M999 205.5h3M1006 205.5h1M407 206.5h2M842 206.5h1M905 206.5h32M949 206.5h1M996 206.5h3M1007 206.5h3M405 207.5h2M843 207.5h62M937 207.5h12M1010 207.5h1M404 208.5h1M1011 208.5h2M403 209.5h1M1013 209.5h2M401 210.5h2M1015 210.5h2M400 211.5h1M1017 211.5h1M398 212.5h2M1018 212.5h2M397 213.5h1M1020 213.5h2M396 214.5h1M1022 214.5h1M395 215.5h1M1023 215.5h3M394 216.5h1M1026 216.5h1M393 217.5h1M1027 217.5h4M392 218.5h1M1031 218.5h3M391 219.5h1M1034 219.5h5M390 220.5h1M1039 220.5h3M389 221.5h1M1042 221.5h5M388 222.5h1M1047 222.5h3M387 223.5h1M1050 223.5h7M386 224.5h1M1057 224.5h6M384 225.5h2M1063 225.5h3M383 226.5h1M1066 226.5h4M382 227.5h1M1070 227.5h2M381 228.5h1M1072 228.5h3M380 229.5h1M1075 229.5h2M379 230.5h1M1077 230.5h1M377 231.5h2M1078 231.5h1M376 232.5h1M1079 232.5h1M374 233.5h2M1080 233.5h2M373 234.5h1M1082 234.5h1M372 235.5h1M1083 235.5h1M371 236.5h1M1084 236.5h1M370 237.5h1M1084 237.5h1M368 238.5h2M1085 238.5h1M367 239.5h1M1086 239.5h1M366 240.5h1M1086 240.5h1M365 241.5h1M1086 241.5h1M364 242.5h1M1087 242.5h1M363 243.5h1M1088 243.5h1M361 244.5h2M1088 244.5h1M360 245.5h1M1088 245.5h1M358 246.5h2M1089 246.5h1M357 247.5h1M1090 247.5h1M356 248.5h1M1090 248.5h1M355 249.5h1M1090 249.5h1M353 250.5h2M1091 250.5h1M352 251.5h1M1092 251.5h1M350 252.5h2M1092 252.5h1M349 253.5h1M1093 253.5h2M348 254.5h1M1095 254.5h2M347 255.5h1M1097 255.5h1M346 256.5h1M1098 256.5h2M345 257.5h1M1100 257.5h1M344 258.5h1M1101 258.5h1M343 259.5h1M1102 259.5h1M342 260.5h1M1102 260.5h1M341 261.5h1M1103 261.5h1M340 262.5h1M1104 262.5h1M338 263.5h2M1105 263.5h1M337 264.5h1M1106 264.5h1M335 265.5h2M1106 265.5h1M333 266.5h2M1107 266.5h1M332 267.5h1M1108 267.5h1M331 268.5h1M1109 268.5h1M0 269.5h47M329 269.5h2M1109 269.5h1M47 270.5h3M328 270.5h1M1110 270.5h1M50 271.5h4M326 271.5h2M1110 271.5h1M54 272.5h1M325 272.5h1M1111 272.5h1M55 273.5h3M323 273.5h2M1112 273.5h1M58 274.5h1M322 274.5h1M1112 274.5h1M59 275.5h3M319 275.5h3M1113 275.5h1M62 276.5h1M318 276.5h1M1114 276.5h1M63 277.5h3M316 277.5h2M1114 277.5h1M66 278.5h1M315 278.5h1M1115 278.5h1M67 279.5h2M314 279.5h1M1115 279.5h1M69 280.5h1M313 280.5h1M1116 280.5h1M69 281.5h1M312 281.5h1M1117 281.5h1M70 282.5h1M312 282.5h1M1117 282.5h1M71 283.5h1M311 283.5h1M1118 283.5h1M72 284.5h1M310 284.5h1M1118 284.5h1M72 285.5h1M309 285.5h1M1119 285.5h1M73 286.5h1M308 286.5h1M1119 286.5h1M74 287.5h1M307 287.5h1M1120 287.5h1M75 288.5h1M306 288.5h1M1121 288.5h1M75 289.5h1M304 289.5h2M1121 289.5h1M76 290.5h1M303 290.5h1M1122 290.5h1M77 291.5h1M302 291.5h1M1122 291.5h1M77 292.5h1M301 292.5h1M1123 292.5h1M78 293.5h1M300 293.5h1M1123 293.5h1M79 294.5h1M299 294.5h1M1124 294.5h2M79 295.5h1M298 295.5h1M1126 295.5h2M80 296.5h1M298 296.5h1M1128 296.5h3M81 297.5h1M297 297.5h1M1131 297.5h2M81 298.5h1M296 298.5h1M1133 298.5h2M82 299.5h1M295 299.5h1M1135 299.5h2M83 300.5h1M294 300.5h1M1137 300.5h1M83 301.5h1M294 301.5h1M1138 301.5h2M84 302.5h1M293 302.5h1M1140 302.5h1M84 303.5h1M292 303.5h1M1141 303.5h1M85 304.5h1M291 304.5h1M1142 304.5h1M86 305.5h1M290 305.5h1M1143 305.5h1M86 306.5h1M290 306.5h1M1144 306.5h1M86 307.5h1M289 307.5h1M1145 307.5h1M87 308.5h1M288 308.5h1M1146 308.5h1M88 309.5h1M287 309.5h1M1147 309.5h1M88 310.5h1M286 310.5h1M1148 310.5h1M88 311.5h1M286 311.5h1M1149 311.5h1M89 312.5h1M285 312.5h1M1149 312.5h1M90 313.5h1M284 313.5h1M1150 313.5h1M90 314.5h1M283 314.5h1M1150 314.5h1M90 315.5h1M283 315.5h1M1151 315.5h1M91 316.5h1M282 316.5h1M1151 316.5h1M92 317.5h1M281 317.5h1M1152 317.5h1M92 318.5h1M280 318.5h1M1152 318.5h1M93 319.5h1M280 319.5h1M1153 319.5h1M93 320.5h1M279 320.5h1M1153 320.5h1M94 321.5h1M278 321.5h1M1154 321.5h1M95 322.5h1M277 322.5h1M1154 322.5h1M95 323.5h1M277 323.5h1M1155 323.5h1M96 324.5h1M276 324.5h1M1155 324.5h1M97 325.5h1M276 325.5h1M1156 325.5h1M97 326.5h1M275 326.5h1M1157 326.5h1M98 327.5h1M274 327.5h1M1158 327.5h1M99 328.5h1M274 328.5h1M1159 328.5h1M99 329.5h1M274 329.5h1M1160 329.5h1M100 330.5h1M273 330.5h1M1161 330.5h1M100 331.5h1M272 331.5h1M1162 331.5h1M101 332.5h1M272 332.5h1M1163 332.5h1M101 333.5h1M272 333.5h1M1164 333.5h1M102 334.5h1M271 334.5h1M1165 334.5h1M102 335.5h1M270 335.5h1M1166 335.5h2M102 336.5h1M270 336.5h1M1168 336.5h1M103 337.5h1M270 337.5h1M1169 337.5h2M103 338.5h1M269 338.5h1M1171 338.5h1M103 339.5h1M268 339.5h1M1172 339.5h1M104 340.5h1M268 340.5h1M1173 340.5h2M104 341.5h1M268 341.5h1M1175 341.5h2M105 342.5h1M267 342.5h1M1177 342.5h1M105 343.5h1M267 343.5h1M1178 343.5h2M105 344.5h1M266 344.5h1M1180 344.5h11M106 345.5h1M266 345.5h1M1191 345.5h3M106 346.5h1M265 346.5h1M1194 346.5h3M106 347.5h1M265 347.5h1M1197 347.5h1M107 348.5h1M264 348.5h1M1197 348.5h1M107 349.5h1M264 349.5h1M1198 349.5h1M108 350.5h1M263 350.5h1M1198 350.5h1M108 351.5h1M263 351.5h1M1199 351.5h1M108 352.5h1M262 352.5h1M1200 352.5h1M109 353.5h1M262 353.5h1M1200 353.5h1M109 354.5h1M261 354.5h1M1201 354.5h1M110 355.5h1M261 355.5h1M1202 355.5h1M110 356.5h1M260 356.5h1M1202 356.5h1M111 357.5h1M259 357.5h2M1203 357.5h1M111 358.5h1M256 358.5h3M1203 358.5h1M112 359.5h1M203 359.5h6M254 359.5h2M1204 359.5h1M112 360.5h1M202 360.5h1M209 360.5h5M251 360.5h3M1205 360.5h1M113 361.5h1M199 361.5h3M214 361.5h2M250 361.5h1M1205 361.5h1M113 362.5h1M198 362.5h1M216 362.5h3M247 362.5h3M1206 362.5h1M114 363.5h1M196 363.5h2M219 363.5h4M246 363.5h1M1206 363.5h1M114 364.5h1M194 364.5h2M223 364.5h3M241 364.5h5M1207 364.5h1M115 365.5h1M193 365.5h1M226 365.5h15M1207 365.5h1M115 366.5h1M191 366.5h2M1208 366.5h1M116 367.5h1M189 367.5h2M1209 367.5h1M116 368.5h1M187 368.5h2M1209 368.5h1M117 369.5h1M184 369.5h3M1210 369.5h1M118 370.5h1M182 370.5h2M1210 370.5h1M119 371.5h1M179 371.5h3M1211 371.5h1M120 372.5h1M178 372.5h1M1211 372.5h1M121 373.5h1M175 373.5h3M1212 373.5h1M122 374.5h1M174 374.5h1M1213 374.5h2M123 375.5h1M170 375.5h4M1215 375.5h2M124 376.5h1M167 376.5h3M1217 376.5h1M125 377.5h2M164 377.5h3M1218 377.5h2M127 378.5h2M163 378.5h1M1220 378.5h1M129 379.5h1M161 379.5h2M1221 379.5h1M130 380.5h2M160 380.5h1M1222 380.5h2M132 381.5h2M158 381.5h2M1224 381.5h1M134 382.5h1M157 382.5h1M1225 382.5h2M135 383.5h3M155 383.5h2M1227 383.5h1M138 384.5h1M152 384.5h3M1228 384.5h9M139 385.5h6M150 385.5h2M1236 385.5h1M145 386.5h5M1237 386.5h1M1238 387.5h1M1238 388.5h1M1238 389.5h1M1239 390.5h1M1240 391.5h1M1240 392.5h1M1240 393.5h1M1241 394.5h1M1242 395.5h1M1242 396.5h1M1242 397.5h1M1243 398.5h1M1244 399.5h1M1244 400.5h1M1244 401.5h1M1245 402.5h1M1245 403.5h1M1246 404.5h1M1246 405.5h1M1246 406.5h1M1247 407.5h1M1247 408.5h1M1248 409.5h1M1248 410.5h1M1248 411.5h1M1249 412.5h1M1249 413.5h1M1250 414.5h1M1250 415.5h1M1250 416.5h1M1251 417.5h1M1251 418.5h1M1252 419.5h1M1252 420.5h1M1253 421.5h1M1254 422.5h1M1255 423.5h1M1256 424.5h1M1256 425.5h1M1257 426.5h1M1258 427.5h1M1259 428.5h1M1260 429.5h1M1261 430.5h1M1262 431.5h1M1263 432.5h1M1264 433.5h2M1266 434.5h1M1267 435.5h1M1268 436.5h1M1269 437.5h1M1270 438.5h1M1271 439.5h1M1272 440.5h1M1273 441.5h1M1274 442.5h1M1275 443.5h1M1276 444.5h1M1277 445.5h1M1277 446.5h1M1278 447.5h1M1279 448.5h1M1279 449.5h1M1280 450.5h1M1281 451.5h1M1281 452.5h1M1282 453.5h1M1283 454.5h1M1283 455.5h1M1284 456.5h1M1284 457.5h1M1285 458.5h1M1285 459.5h1M1285 460.5h1M1286 461.5h1M1286 462.5h1M1286 463.5h1M1287 464.5h1M1287 465.5h1M1287 466.5h1M1288 467.5h1M1288 468.5h1M1288 469.5h1M1288 470.5h1M1289 471.5h1M1289 472.5h1M1289 473.5h1M1290 474.5h1M1290 475.5h1M1290 476.5h1M1291 477.5h1M1291 478.5h1M1291 479.5h1M1292 480.5h1M1292 481.5h1M1292 482.5h1M1293 483.5h1M1293 484.5h1M1294 485.5h1M1294 486.5h1M1294 487.5h1M1295 488.5h1M1295 489.5h1M1296 490.5h1M1296 491.5h1M1296 492.5h1M1297 493.5h1M1297 494.5h1M1298 495.5h1M1298 496.5h1M1395 496.5h4M1298 497.5h1M1394 497.5h1M1399 497.5h3M1299 498.5h1M1391 498.5h3M1402 498.5h3M1299 499.5h1M1390 499.5h1M1300 500.5h1M1385 500.5h5M1300 501.5h3M1377 501.5h8M1303 502.5h3M1356 502.5h21M1306 503.5h3M1355 503.5h1M1309 504.5h1M1354 504.5h1M1310 505.5h1M1353 505.5h1M1311 506.5h1M1352 506.5h1M1312 507.5h1M1351 507.5h1M1313 508.5h1M1350 508.5h1M1314 509.5h1M1349 509.5h1M1315 510.5h1M1348 510.5h1M1316 511.5h2M1347 511.5h1M1318 512.5h1M1347 512.5h1M1319 513.5h3M1346 513.5h1M1322 514.5h1M1346 514.5h1M1323 515.5h3M1345 515.5h1M1326 516.5h2M1344 516.5h1M1328 517.5h3M1344 517.5h1M1331 518.5h2M1343 518.5h1M1333 519.5h2M1342 519.5h1M1335 520.5h2M1342 520.5h1M1337 521.5h1M1341 521.5h1M1338 522.5h2M1341 522.5h1M1340 523.5h1" fill="none" stroke="#3cb371" stroke-width="1"/><rect x="4" y="158" width="1" height="24" fill="#000"/><rect x="2" y="160" width="5" height="1" fill="#000"/><rect x="12" y="160" width="1" height="56" fill="#000"/><rect x="10" y="162" width="5" height="44" fill="#000"/><rect x="20" y="181" width="1" height="32" fill="#000"/><rect x="18" y="196" width="5" height="11" fill="#000"/><rect x="19" y="197" width="3" height="9" fill="#fff"/><rect x="28" y="188" width="1" height="22" fill="#000"/><rect x="26" y="196" width="5" height="11" fill="#000"/><rect x="36" y="192" width="1" height="18" fill="#000"/><rect x="34" y="194" width="5" height="14" fill="#000"/><rect x="35" y="195" width="3" height="12" fill="#fff"/><rect x="44" y="186" width="1" height="23" fill="#000"/><rect x="42" y="194" width="5" height="8" fill="#000"/><rect x="52" y="200" width="1" height="84" fill="#000"/><rect x="50" y="202" width="5" height="41" fill="#000"/><rect x="60" y="231" width="1" height="47" fill="#000"/><rect x="58" y="241" width="5" height="13" fill="#000"/><rect x="68" y="245" width="1" height="34" fill="#000"/><rect x="66" y="253" width="5" height="12" fill="#000"/><rect x="76" y="263" width="1" height="38" fill="#000"/><rect x="74" y="272" width="5" height="28" fill="#000"/><rect x="84" y="288" width="1" height="30" fill="#000"/><rect x="82" y="297" width="5" height="17" fill="#000"/><rect x="92" y="303" width="1" height="46" fill="#000"/><rect x="90" y="313" width="5" height="18" fill="#000"/><rect x="100" y="317" width="1" height="44" fill="#000"/><rect x="98" y="317" width="5" height="15" fill="#000"/><rect x="99" y="318" width="3" height="13" fill="#fff"/><rect x="108" y="313" width="1" height="53" fill="#000"/><rect x="106" y="317" width="5" height="44" fill="#000"/><rect x="116" y="339" width="1" height="32" fill="#000"/><rect x="114" y="349" width="5" height="13" fill="#000"/><rect x="115" y="350" width="3" height="11" fill="#fff"/><rect x="124" y="311" width="1" height="40" fill="#000"/><rect x="122" y="313" width="5" height="38" fill="#000"/><rect x="123" y="314" width="3" height="36" fill="#fff"/><rect x="132" y="304" width="1" height="24" fill="#000"/><rect x="130" y="305" width="5" height="9" fill="#000"/><rect x="131" y="306" width="3" height="7" fill="#fff"/><rect x="140" y="292" width="1" height="17" fill="#000"/><rect x="138" y="303" width="5" height="3" fill="#000"/><rect x="139" y="304" width="3" height="1" fill="#fff"/><rect x="148" y="285" width="1" height="34" fill="#000"/><rect x="146" y="290" width="5" height="14" fill="#000"/><rect x="147" y="291" width="3" height="12" fill="#fff"/><rect x="156" y="276" width="1" height="27" fill="#000"/><rect x="154" y="286" width="5" height="5" fill="#000"/><rect x="155" y="287" width="3" height="3" fill="#fff"/><rect x="164" y="254" width="1" height="36" fill="#000"/><rect x="162" y="258" width="5" height="29" fill="#000"/><rect x="163" y="259" width="3" height="27" fill="#fff"/><rect x="172" y="250" width="1" height="23" fill="#000"/><rect x="170" y="256" width="5" height="3" fill="#000"/><rect x="171" y="257" width="3" height="1" fill="#fff"/><rect x="180" y="248" width="1" height="12" fill="#000"/><rect x="178" y="255" width="5" height="1" fill="#000"/><rect x="188" y="249" width="1" height="12" fill="#000"/><rect x="186" y="255" width="5" height="5" fill="#000"/><rect x="196" y="245" width="1" height="24" fill="#000"/><rect x="194" y="245" width="5" height="14" fill="#000"/><rect x="195" y="246" width="3" height="12" fill="#fff"/><rect x="204" y="229" width="1" height="37" fill="#000"/><rect x="202" y="231" width="5" height="15" fill="#000"/><rect x="203" y="232" width="3" height="13" fill="#fff"/><rect x="212" y="222" width="1" height="17" fill="#000"/><rect x="210" y="231" width="5" height="1" fill="#000"/><rect x="220" y="214" width="1" height="19" fill="#000"/><rect x="218" y="217" width="5" height="15" fill="#000"/><rect x="219" y="218" width="3" height="13" fill="#fff"/><rect x="228" y="215" width="1" height="7" fill="#000"/><rect x="226" y="218" width="5" height="1" fill="#000"/><rect x="236" y="213" width="1" height="6" fill="#000"/><rect x="234" y="215" width="5" height="4" fill="#000"/><rect x="235" y="216" width="3" height="2" fill="#fff"/><rect x="244" y="204" width="1" height="16" fill="#000"/><rect x="242" y="205" width="5" height="11" fill="#000"/><rect x="243" y="206" width="3" height="9" fill="#fff"/><rect x="252" y="185" width="1" height="28" fill="#000"/><rect x="250" y="189" width="5" height="18" fill="#000"/><rect x="251" y="190" width="3" height="16" fill="#fff"/><rect x="260" y="178" width="1" height="17" fill="#000"/><rect x="258" y="179" width="5" height="11" fill="#000"/><rect x="259" y="180" width="3" height="9" fill="#fff"/><rect x="268" y="177" width="1" height="17" fill="#000"/><rect x="266" y="180" width="5" height="11" fill="#000"/><rect x="276" y="173" width="1" height="22" fill="#000"/><rect x="274" y="173" width="5" height="19" fill="#000"/><rect x="284" y="190" width="1" height="13" fill="#000"/><rect x="282" y="190" width="5" height="10" fill="#000"/><rect x="292" y="187" width="1" height="14" fill="#000"/><rect x="290" y="189" width="5" height="12" fill="#000"/><rect x="291" y="190" width="3" height="10" fill="#fff"/><rect x="300" y="163" width="1" height="28" fill="#000"/><rect x="298" y="164" width="5" height="27" fill="#000"/><rect x="299" y="165" width="3" height="25" fill="#fff"/><rect x="308" y="149" width="1" height="17" fill="#000"/><rect x="306" y="154" width="5" height="12" fill="#000"/><rect x="307" y="155" width="3" height="10" fill="#fff"/><rect x="316" y="141" width="1" height="19" fill="#000"/><rect x="314" y="149" width="5" height="6" fill="#000"/><rect x="315" y="150" width="3" height="4" fill="#fff"/><rect x="324" y="145" width="1" height="9" fill="#000"/><rect x="322" y="149" width="5" height="2" fill="#000"/><rect x="332" y="143" width="1" height="9" fill="#000"/><rect x="330" y="150" width="5" height="1" fill="#000"/><rect x="340" y="129" width="1" height="22" fill="#000"/><rect x="338" y="134" width="5" height="17" fill="#000"/><rect x="339" y="135" width="3" height="15" fill="#fff"/><rect x="348" y="113" width="1" height="33" fill="#000"/><rect x="346" y="121" width="5" height="15" fill="#000"/><rect x="347" y="122" width="3" height="13" fill="#fff"/><rect x="356" y="116" width="1" height="25" fill="#000"/><rect x="354" y="122" width="5" height="5" fill="#000"/><rect x="364" y="119" width="1" height="15" fill="#000"/><rect x="362" y="125" width="5" height="2" fill="#000"/><rect x="372" y="122" width="1" height="13" fill="#000"/><rect x="370" y="125" width="5" height="3" fill="#000"/><rect x="380" y="122" width="1" height="10" fill="#000"/><rect x="378" y="124" width="5" height="5" fill="#000"/><rect x="379" y="125" width="3" height="3" fill="#fff"/><rect x="388" y="120" width="1" height="11" fill="#000"/><rect x="386" y="124" width="5" height="5" fill="#000"/><rect x="396" y="114" width="1" height="20" fill="#000"/><rect x="394" y="119" width="5" height="10" fill="#000"/><rect x="395" y="120" width="3" height="8" fill="#fff"/><rect x="404" y="114" width="1" height="13" fill="#000"/><rect x="402" y="114" width="5" height="6" fill="#000"/><rect x="403" y="115" width="3" height="4" fill="#fff"/><rect x="412" y="106" width="1" height="16" fill="#000"/><rect x="410" y="114" width="5" height="6" fill="#000"/><rect x="420" y="113" width="1" height="13" fill="#000"/><rect x="418" y="119" width="5" height="2" fill="#000"/><rect x="428" y="114" width="1" height="8" fill="#000"/><rect x="426" y="119" width="5" height="2" fill="#000"/><rect x="436" y="107" width="1" height="14" fill="#000"/><rect x="434" y="109" width="5" height="12" fill="#000"/><rect x="435" y="110" width="3" height="10" fill="#fff"/><rect x="444" y="90" width="1" height="24" fill="#000"/><rect x="442" y="109" width="5" height="3" fill="#000"/><rect x="452" y="110" width="1" height="11" fill="#000"/><rect x="450" y="112" width="5" height="1" fill="#000"/><rect x="460" y="112" width="1" height="22" fill="#000"/><rect x="458" y="112" width="5" height="19" fill="#000"/><rect x="468" y="129" width="1" height="24" fill="#000"/><rect x="466" y="130" width="5" height="11" fill="#000"/><rect x="476" y="134" width="1" height="8" fill="#000"/><rect x="474" y="135" width="5" height="7" fill="#000"/><rect x="475" y="136" width="3" height="5" fill="#fff"/><rect x="484" y="129" width="1" height="16" fill="#000"/><rect x="482" y="135" width="5" height="7" fill="#000"/><rect x="492" y="123" width="1" height="25" fill="#000"/><rect x="490" y="134" width="5" height="9" fill="#000"/><rect x="491" y="135" width="3" height="7" fill="#fff"/><rect x="500" y="118" width="1" height="26" fill="#000"/><rect x="498" y="125" width="5" height="10" fill="#000"/><rect x="499" y="126" width="3" height="8" fill="#fff"/><rect x="508" y="120" width="1" height="19" fill="#000"/><rect x="506" y="125" width="5" height="7" fill="#000"/><rect x="516" y="121" width="1" height="7" fill="#000"/><rect x="514" y="123" width="5" height="5" fill="#000"/><rect x="515" y="124" width="3" height="3" fill="#fff"/><rect x="524" y="111" width="1" height="14" fill="#000"/><rect x="522" y="120" width="5" height="4" fill="#000"/><rect x="523" y="121" width="3" height="2" fill="#fff"/><rect x="532" y="119" width="1" height="10" fill="#000"/><rect x="530" y="120" width="5" height="2" fill="#000"/><rect x="540" y="109" width="1" height="20" fill="#000"/><rect x="538" y="110" width="5" height="13" fill="#000"/><rect x="539" y="111" width="3" height="11" fill="#fff"/><rect x="548" y="110" width="1" height="43" fill="#000"/><rect x="546" y="110" width="5" height="20" fill="#000"/><rect x="556" y="109" width="1" height="39" fill="#000"/><rect x="554" y="113" width="5" height="18" fill="#000"/><rect x="555" y="114" width="3" height="16" fill="#fff"/><rect x="564" y="104" width="1" height="14" fill="#000"/><rect x="562" y="111" width="5" height="4" fill="#000"/><rect x="563" y="112" width="3" height="2" fill="#fff"/><rect x="572" y="102" width="1" height="11" fill="#000"/><rect x="570" y="103" width="5" height="10" fill="#000"/><rect x="571" y="104" width="3" height="8" fill="#fff"/><rect x="580" y="95" width="1" height="10" fill="#000"/><rect x="578" y="98" width="5" height="7" fill="#000"/><rect x="579" y="99" width="3" height="5" fill="#fff"/><rect x="588" y="86" width="1" height="15" fill="#000"/><rect x="586" y="89" width="5" height="11" fill="#000"/><rect x="587" y="90" width="3" height="9" fill="#fff"/><rect x="596" y="58" width="1" height="38" fill="#000"/><rect x="594" y="65" width="5" height="26" fill="#000"/><rect x="595" y="66" width="3" height="24" fill="#fff"/><rect x="604" y="65" width="1" height="21" fill="#000"/><rect x="602" y="65" width="5" height="7" fill="#000"/><rect x="612" y="63" width="1" height="21" fill="#000"/><rect x="610" y="71" width="5" height="11" fill="#000"/><rect x="620" y="78" width="1" height="12" fill="#000"/><rect x="618" y="81" width="5" height="6" fill="#000"/><rect x="628" y="77" width="1" height="15" fill="#000"/><rect x="626" y="78" width="5" height="10" fill="#000"/><rect x="627" y="79" width="3" height="8" fill="#fff"/><rect x="636" y="68" width="1" height="15" fill="#000"/><rect x="634" y="75" width="5" height="4" fill="#000"/><rect x="635" y="76" width="3" height="2" fill="#fff"/><rect x="644" y="59" width="1" height="23" fill="#000"/><rect x="642" y="64" width="5" height="13" fill="#000"/><rect x="643" y="65" width="3" height="11" fill="#fff"/><rect x="652" y="54" width="1" height="58" fill="#000"/><rect x="650" y="64" width="5" height="38" fill="#000"/><rect x="660" y="101" width="1" height="34" fill="#000"/><rect x="658" y="102" width="5" height="18" fill="#000"/><rect x="668" y="116" width="1" height="30" fill="#000"/><rect x="666" y="120" width="5" height="25" fill="#000"/><rect x="676" y="122" width="1" height="26" fill="#000"/><rect x="674" y="130" width="5" height="15" fill="#000"/><rect x="675" y="131" width="3" height="13" fill="#fff"/><rect x="684" y="113" width="1" height="27" fill="#000"/><rect x="682" y="120" width="5" height="11" fill="#000"/><rect x="683" y="121" width="3" height="9" fill="#fff"/><rect x="692" y="111" width="1" height="48" fill="#000"/><rect x="690" y="120" width="5" height="28" fill="#000"/><rect x="700" y="123" width="1" height="32" fill="#000"/><rect x="698" y="140" width="5" height="9" fill="#000"/><rect x="699" y="141" width="3" height="7" fill="#fff"/><rect x="708" y="134" width="1" height="25" fill="#000"/><rect x="706" y="140" width="5" height="4" fill="#000"/><rect x="716" y="138" width="1" height="11" fill="#000"/><rect x="714" y="143" width="5" height="1" fill="#000"/><rect x="724" y="138" width="1" height="10" fill="#000"/><rect x="722" y="143" width="5" height="1" fill="#000"/><rect x="732" y="141" width="1" height="14" fill="#000"/><rect x="730" y="143" width="5" height="11" fill="#000"/><rect x="740" y="144" width="1" height="27" fill="#000"/><rect x="738" y="152" width="5" height="13" fill="#000"/><rect x="748" y="132" width="1" height="37" fill="#000"/><rect x="746" y="137" width="5" height="27" fill="#000"/><rect x="747" y="138" width="3" height="25" fill="#fff"/><rect x="756" y="133" width="1" height="24" fill="#000"/><rect x="754" y="137" width="5" height="18" fill="#000"/><rect x="764" y="148" width="1" height="27" fill="#000"/><rect x="762" y="152" width="5" height="15" fill="#000"/><rect x="772" y="158" width="1" height="14" fill="#000"/><rect x="770" y="160" width="5" height="8" fill="#000"/><rect x="771" y="161" width="3" height="6" fill="#fff"/><rect x="780" y="145" width="1" height="17" fill="#000"/><rect x="778" y="147" width="5" height="15" fill="#000"/><rect x="779" y="148" width="3" height="13" fill="#fff"/><rect x="788" y="145" width="1" height="20" fill="#000"/><rect x="786" y="147" width="5" height="8" fill="#000"/><rect x="796" y="152" width="1" height="84" fill="#000"/><rect x="794" y="153" width="5" height="73" fill="#000"/><rect x="804" y="184" width="1" height="48" fill="#000"/><rect x="802" y="191" width="5" height="34" fill="#000"/><rect x="803" y="192" width="3" height="32" fill="#fff"/><rect x="812" y="172" width="1" height="33" fill="#000"/><rect x="810" y="175" width="5" height="17" fill="#000"/><rect x="811" y="176" width="3" height="15" fill="#fff"/><rect x="820" y="170" width="1" height="15" fill="#000"/><rect x="818" y="173" width="5" height="3" fill="#000"/><rect x="819" y="174" width="3" height="1" fill="#fff"/><rect x="828" y="173" width="1" height="11" fill="#000"/><rect x="826" y="174" width="5" height="1" fill="#000"/><rect x="836" y="155" width="1" height="28" fill="#000"/><rect x="834" y="167" width="5" height="9" fill="#000"/><rect x="835" y="168" width="3" height="7" fill="#fff"/><rect x="844" y="164" width="1" height="55" fill="#000"/><rect x="842" y="167" width="5" height="38" fill="#000"/><rect x="852" y="151" width="1" height="54" fill="#000"/><rect x="850" y="155" width="5" height="50" fill="#000"/><rect x="851" y="156" width="3" height="48" fill="#fff"/><rect x="860" y="148" width="1" height="14" fill="#000"/><rect x="858" y="152" width="5" height="4" fill="#000"/><rect x="859" y="153" width="3" height="2" fill="#fff"/><rect x="868" y="144" width="1" height="12" fill="#000"/><rect x="866" y="145" width="5" height="8" fill="#000"/><rect x="867" y="146" width="3" height="6" fill="#fff"/><rect x="876" y="139" width="1" height="9" fill="#000"/><rect x="874" y="145" width="5" height="1" fill="#000"/><rect x="884" y="142" width="1" height="16" fill="#000"/><rect x="882" y="145" width="5" height="3" fill="#000"/><rect x="892" y="123" width="1" height="33" fill="#000"/><rect x="890" y="143" width="5" height="6" fill="#000"/><rect x="891" y="144" width="3" height="4" fill="#fff"/><rect x="900" y="136" width="1" height="28" fill="#000"/><rect x="898" y="144" width="5" height="7" fill="#000"/><rect x="908" y="138" width="1" height="22" fill="#000"/><rect x="906" y="144" width="5" height="8" fill="#000"/><rect x="907" y="145" width="3" height="6" fill="#fff"/><rect x="916" y="143" width="1" height="15" fill="#000"/><rect x="914" y="145" width="5" height="9" fill="#000"/><rect x="924" y="149" width="1" height="11" fill="#000"/><rect x="922" y="154" width="5" height="4" fill="#000"/><rect x="932" y="137" width="1" height="23" fill="#000"/><rect x="930" y="143" width="5" height="17" fill="#000"/><rect x="931" y="144" width="3" height="15" fill="#fff"/><rect x="940" y="120" width="1" height="25" fill="#000"/><rect x="938" y="129" width="5" height="16" fill="#000"/><rect x="939" y="130" width="3" height="14" fill="#fff"/><rect x="948" y="115" width="1" height="39" fill="#000"/><rect x="946" y="129" width="5" height="17" fill="#000"/><rect x="956" y="145" width="1" height="36" fill="#000"/><rect x="954" y="145" width="5" height="20" fill="#000"/><rect x="964" y="163" width="1" height="17" fill="#000"/><rect x="962" y="165" width="5" height="8" fill="#000"/><rect x="972" y="156" width="1" height="18" fill="#000"/><rect x="970" y="165" width="5" height="9" fill="#000"/><rect x="971" y="166" width="3" height="7" fill="#fff"/><rect x="980" y="153" width="1" height="16" fill="#000"/><rect x="978" y="165" width="5" height="2" fill="#000"/><rect x="988" y="167" width="1" height="61" fill="#000"/><rect x="986" y="167" width="5" height="40" fill="#000"/><rect x="996" y="201" width="1" height="36" fill="#000"/><rect x="994" y="206" width="5" height="13" fill="#000"/><rect x="1004" y="192" width="1" height="28" fill="#000"/><rect x="1002" y="195" width="5" height="25" fill="#000"/><rect x="1003" y="196" width="3" height="23" fill="#fff"/><rect x="1012" y="183" width="1" height="15" fill="#000"/><rect x="1010" y="190" width="5" height="5" fill="#000"/><rect x="1020" y="193" width="1" height="17" fill="#000"/><rect x="1018" y="195" width="5" height="6" fill="#000"/><rect x="1028" y="194" width="1" height="15" fill="#000"/><rect x="1026" y="197" width="5" height="3" fill="#000"/><rect x="1027" y="198" width="3" height="1" fill="#fff"/><rect x="1036" y="185" width="1" height="18" fill="#000"/><rect x="1034" y="189" width="5" height="9" fill="#000"/><rect x="1035" y="190" width="3" height="7" fill="#fff"/><rect x="1044" y="188" width="1" height="11" fill="#000"/><rect x="1042" y="189" width="5" height="3" fill="#000"/><rect x="1052" y="191" width="1" height="6" fill="#000"/><rect x="1050" y="192" width="5" height="1" fill="#000"/><rect x="1060" y="190" width="1" height="11" fill="#000"/><rect x="1058" y="192" width="5" height="1" fill="#000"/><rect x="1068" y="188" width="1" height="17" fill="#000"/><rect x="1066" y="192" width="5" height="11" fill="#000"/><rect x="1076" y="199" width="1" height="18" fill="#000"/><rect x="1074" y="202" width="5" height="6" fill="#000"/><rect x="1084" y="208" width="1" height="37" fill="#000"/><rect x="1082" y="208" width="5" height="25" fill="#000"/><rect x="1092" y="227" width="1" height="54" fill="#000"/><rect x="1090" y="231" width="5" height="43" fill="#000"/><rect x="1100" y="252" width="1" height="37" fill="#000"/><rect x="1098" y="256" width="5" height="18" fill="#000"/><rect x="1099" y="257" width="3" height="16" fill="#fff"/><rect x="1108" y="255" width="1" height="28" fill="#000"/><rect x="1106" y="255" width="5" height="20" fill="#000"/><rect x="1116" y="262" width="1" height="28" fill="#000"/><rect x="1114" y="274" width="5" height="14" fill="#000"/><rect x="1124" y="284" width="1" height="20" fill="#000"/><rect x="1122" y="287" width="5" height="13" fill="#000"/><rect x="1132" y="259" width="1" height="47" fill="#000"/><rect x="1130" y="261" width="5" height="38" fill="#000"/><rect x="1131" y="262" width="3" height="36" fill="#fff"/><rect x="1140" y="248" width="1" height="39" fill="#000"/><rect x="1138" y="261" width="5" height="16" fill="#000"/><rect x="1148" y="254" width="1" height="48" fill="#000"/><rect x="1146" y="277" width="5" height="13" fill="#000"/><rect x="1156" y="283" width="1" height="43" fill="#000"/><rect x="1154" y="290" width="5" height="36" fill="#000"/><rect x="1164" y="300" width="1" height="28" fill="#000"/><rect x="1162" y="302" width="5" height="22" fill="#000"/><rect x="1163" y="303" width="3" height="20" fill="#fff"/><rect x="1172" y="290" width="1" height="15" fill="#000"/><rect x="1170" y="302" width="5" height="1" fill="#000"/><rect x="1180" y="295" width="1" height="22" fill="#000"/><rect x="1178" y="301" width="5" height="1" fill="#000"/><rect x="1188" y="259" width="1" height="48" fill="#000"/><rect x="1186" y="261" width="5" height="41" fill="#000"/><rect x="1187" y="262" width="3" height="39" fill="#fff"/><rect x="1196" y="255" width="1" height="50" fill="#000"/><rect x="1194" y="261" width="5" height="41" fill="#000"/><rect x="1204" y="297" width="1" height="93" fill="#000"/><rect x="1202" y="301" width="5" height="65" fill="#000"/><rect x="1212" y="362" width="1" height="37" fill="#000"/><rect x="1210" y="364" width="5" height="16" fill="#000"/><rect x="1220" y="350" width="1" height="31" fill="#000"/><rect x="1218" y="356" width="5" height="25" fill="#000"/><rect x="1219" y="357" width="3" height="23" fill="#fff"/><rect x="1228" y="350" width="1" height="24" fill="#000"/><rect x="1226" y="356" width="5" height="11" fill="#000"/><rect x="1236" y="344" width="1" height="57" fill="#000"/><rect x="1234" y="354" width="5" height="14" fill="#000"/><rect x="1235" y="355" width="3" height="12" fill="#fff"/><rect x="1244" y="337" width="1" height="79" fill="#000"/><rect x="1242" y="354" width="5" height="62" fill="#000"/><rect x="1252" y="401" width="1" height="31" fill="#000"/><rect x="1250" y="414" width="5" height="16" fill="#000"/><rect x="1260" y="404" width="1" height="24" fill="#000"/><rect x="1258" y="404" width="5" height="24" fill="#000"/><rect x="1259" y="405" width="3" height="22" fill="#fff"/><rect x="1268" y="389" width="1" height="24" fill="#000"/><rect x="1266" y="394" width="5" height="11" fill="#000"/><rect x="1267" y="395" width="3" height="9" fill="#fff"/><rect x="1276" y="389" width="1" height="20" fill="#000"/><rect x="1274" y="393" width="5" height="13" fill="#000"/><rect x="1284" y="393" width="1" height="55" fill="#000"/><rect x="1282" y="405" width="5" height="25" fill="#000"/><rect x="1292" y="427" width="1" height="113" fill="#000"/><rect x="1290" y="429" width="5" height="76" fill="#000"/><rect x="1300" y="502" width="1" height="78" fill="#000"/><rect x="1298" y="503" width="5" height="5" fill="#000"/><rect x="1299" y="504" width="3" height="3" fill="#fff"/><rect x="1308" y="397" width="1" height="109" fill="#000"/><rect x="1306" y="409" width="5" height="96" fill="#000"/><rect x="1307" y="410" width="3" height="94" fill="#fff"/><rect x="1316" y="406" width="1" height="47" fill="#000"/><rect x="1314" y="408" width="5" height="43" fill="#000"/><rect x="1324" y="437" width="1" height="29" fill="#000"/><rect x="1322" y="442" width="5" height="9" fill="#000"/><rect x="1323" y="443" width="3" height="7" fill="#fff"/><rect x="1332" y="411" width="1" height="54" fill="#000"/><rect x="1330" y="442" width="5" height="5" fill="#000"/><rect x="1340" y="437" width="1" height="89" fill="#000"/><rect x="1338" y="447" width="5" height="26" fill="#000"/><rect x="1348" y="381" width="1" height="102" fill="#000"/><rect x="1346" y="382" width="5" height="90" fill="#000"/><rect x="1347" y="383" width="3" height="88" fill="#fff"/><rect x="1356" y="381" width="1" height="81" fill="#000"/><rect x="1354" y="382" width="5" height="34" fill="#000"/><rect x="1364" y="407" width="1" height="28" fill="#000"/><rect x="1362" y="410" width="5" height="5" fill="#000"/><rect x="1363" y="411" width="3" height="3" fill="#fff"/><rect x="1372" y="408" width="1" height="18" fill="#000"/><rect x="1370" y="409" width="5" height="17" fill="#000"/><rect x="1380" y="363" width="1" height="53" fill="#000"/><rect x="1378" y="363" width="5" height="52" fill="#000"/><rect x="1379" y="364" width="3" height="50" fill="#fff"/><rect x="1388" y="349" width="1" height="62" fill="#000"/><rect x="1386" y="365" width="5" height="29" fill="#000"/><rect x="1396" y="350" width="1" height="88" fill="#000"/><rect x="1394" y="393" width="5" height="28" fill="#000"/><rect x="1404" y="420" width="1" height="61" fill="#000"/><rect x="1402" y="420" width="5" height="24" fill="#000"/><rect x="4" y="637" width="1" height="16" fill="#c0c0c0"/><rect x="12" y="640" width="1" height="13" fill="#c0c0c0"/><rect x="20" y="640" width="1" height="13" fill="#c0c0c0"/><rect x="28" y="642" width="1" height="11" fill="#c0c0c0"/><rect x="36" y="643" width="1" height="10" fill="#c0c0c0"/><rect x="44" y="644" width="1" height="9" fill="#c0c0c0"/><rect x="52" y="650" width="1" height="3" fill="#c0c0c0"/><rect x="60" y="652" width="1" height="4" fill="#c0c0c0"/><rect x="68" y="652" width="1" height="10" fill="#c0c0c0"/><rect x="76" y="652" width="1" height="20" fill="#c0c0c0"/><rect x="84" y="652" width="1" height="28" fill="#c0c0c0"/><rect x="92" y="652" width="1" height="37" fill="#c0c0c0"/><rect x="100" y="652" width="1" height="42" fill="#c0c0c0"/><rect x="108" y="652" width="1" height="51" fill="#c0c0c0"/><rect x="116" y="652" width="1" height="56" fill="#c0c0c0"/><rect x="124" y="652" width="1" height="54" fill="#c0c0c0"/><rect x="132" y="652" width="1" height="51" fill="#c0c0c0"/><rect x="140" y="652" width="1" height="48" fill="#c0c0c0"/><rect x="148" y="652" width="1" height="44" fill="#c0c0c0"/><rect x="156" y="652" width="1" height="39" fill="#c0c0c0"/><rect x="164" y="652" width="1" height="32" fill="#c0c0c0"/><rect x="172" y="652" width="1" height="25" fill="#c0c0c0"/><rect x="180" y="652" width="1" height="20" fill="#c0c0c0"/><rect x="188" y="652" width="1" height="16" fill="#c0c0c0"/><rect x="196" y="652" width="1" height="10" fill="#c0c0c0"/><rect x="204" y="652" width="1" height="4" fill="#c0c0c0"/><rect x="212" y="652" width="1" height="1" fill="#c0c0c0"/><rect x="220" y="646" width="1" height="7" fill="#c0c0c0"/><rect x="228" y="642" width="1" height="11" fill="#c0c0c0"/><rect x="236" y="639" width="1" height="14" fill="#c0c0c0"/><rect x="244" y="635" width="1" height="18" fill="#c0c0c0"/><rect x="252" y="630" width="1" height="23" fill="#c0c0c0"/><rect x="260" y="625" width="1" height="28" fill="#c0c0c0"/><rect x="268" y="623" width="1" height="30" fill="#c0c0c0"/><rect x="276" y="622" width="1" height="31" fill="#c0c0c0"/><rect x="284" y="622" width="1" height="31" fill="#c0c0c0"/><rect x="292" y="622" width="1" height="31" fill="#c0c0c0"/><rect x="300" y="618" width="1" height="35" fill="#c0c0c0"/><rect x="308" y="615" width="1" height="38" fill="#c0c0c0"/><rect x="316" y="612" width="1" height="41" fill="#c0c0c0"/><rect x="324" y="610" width="1" height="43" fill="#c0c0c0"/><rect x="332" y="609" width="1" height="44" fill="#c0c0c0"/><rect x="340" y="607" width="1" height="46" fill="#c0c0c0"/><rect x="348" y="604" width="1" height="49" fill="#c0c0c0"/><rect x="356" y="603" width="1" height="50" fill="#c0c0c0"/><rect x="364" y="603" width="1" height="50" fill="#c0c0c0"/><rect x="372" y="603" width="1" height="50" fill="#c0c0c0"/><rect x="380" y="604" width="1" height="49" fill="#c0c0c0"/><rect x="388" y="605" width="1" height="48" fill="#c0c0c0"/><rect x="396" y="606" width="1" height="47" fill="#c0c0c0"/><rect x="404" y="606" width="1" height="47" fill="#c0c0c0"/><rect x="412" y="608" width="1" height="45" fill="#c0c0c0"/><rect x="420" y="609" width="1" height="44" fill="#c0c0c0"/><rect x="428" y="611" width="1" height="42" fill="#c0c0c0"/><rect x="436" y="612" width="1" height="41" fill="#c0c0c0"/><rect x="444" y="613" width="1" height="40" fill="#c0c0c0"/><rect x="452" y="614" width="1" height="39" fill="#c0c0c0"/><rect x="460" y="618" width="1" height="35" fill="#c0c0c0"/><rect x="468" y="623" width="1" height="30" fill="#c0c0c0"/><rect x="476" y="626" width="1" height="27" fill="#c0c0c0"/><rect x="484" y="630" width="1" height="23" fill="#c0c0c0"/><rect x="492" y="632" width="1" height="21" fill="#c0c0c0"/><rect x="500" y="633" width="1" height="20" fill="#c0c0c0"/><rect x="508" y="635" width="1" height="18" fill="#c0c0c0"/><rect x="516" y="635" width="1" height="18" fill="#c0c0c0"/><rect x="524" y="635" width="1" height="18" fill="#c0c0c0"/><rect x="532" y="636" width="1" height="17" fill="#c0c0c0"/><rect x="540" y="635" width="1" height="18" fill="#c0c0c0"/><rect x="548" y="637" width="1" height="16" fill="#c0c0c0"/><rect x="556" y="636" width="1" height="17" fill="#c0c0c0"/><rect x="564" y="636" width="1" height="17" fill="#c0c0c0"/><rect x="572" y="635" width="1" height="18" fill="#c0c0c0"/><rect x="580" y="634" width="1" height="19" fill="#c0c0c0"/><rect x="588" y="632" width="1" height="21" fill="#c0c0c0"/><rect x="596" y="627" width="1" height="26" fill="#c0c0c0"/><rect x="604" y="625" width="1" height="28" fill="#c0c0c0"/><rect x="612" y="625" width="1" height="28" fill="#c0c0c0"/><rect x="620" y="625" width="1" height="28" fill="#c0c0c0"/><rect x="628" y="625" width="1" height="28" fill="#c0c0c0"/><rect x="636" y="625" width="1" height="28" fill="#c0c0c0"/><rect x="644" y="624" width="1" height="29" fill="#c0c0c0"/><rect x="652" y="628" width="1" height="25" fill="#c0c0c0"/><rect x="660" y="634" width="1" height="19" fill="#c0c0c0"/><rect x="668" y="642" width="1" height="11" fill="#c0c0c0"/><rect x="676" y="646" width="1" height="7" fill="#c0c0c0"/><rect x="684" y="648" width="1" height="5" fill="#c0c0c0"/><rect x="692" y="652" width="1" height="2" fill="#c0c0c0"/><rect x="700" y="652" width="1" height="5" fill="#c0c0c0"/><rect x="708" y="652" width="1" height="8" fill="#c0c0c0"/><rect x="716" y="652" width="1" height="10" fill="#c0c0c0"/><rect x="724" y="652" width="1" height="12" fill="#c0c0c0"/><rect x="732" y="652" width="1" height="14" fill="#c0c0c0"/><rect x="740" y="652" width="1" height="17" fill="#c0c0c0"/><rect x="748" y="652" width="1" height="16" fill="#c0c0c0"/><rect x="756" y="652" width="1" height="17" fill="#c0c0c0"/><rect x="764" y="652" width="1" height="19" fill="#c0c0c0"/><rect x="772" y="652" width="1" height="20" fill="#c0c0c0"/><rect x="780" y="652" width="1" height="18" fill="#c0c0c0"/><rect x="788" y="652" width="1" height="18" fill="#c0c0c0"/><rect x="796" y="652" width="1" height="27" fill="#c0c0c0"/><rect x="804" y="652" width="1" height="29" fill="#c0c0c0"/><rect x="812" y="652" width="1" height="28" fill="#c0c0c0"/><rect x="820" y="652" width="1" height="27" fill="#c0c0c0"/><rect x="828" y="652" width="1" height="26" fill="#c0c0c0"/><rect x="836" y="652" width="1" height="24" fill="#c0c0c0"/><rect x="844" y="652" width="1" height="27" fill="#c0c0c0"/><rect x="852" y="652" width="1" height="22" fill="#c0c0c0"/><rect x="860" y="652" width="1" height="18" fill="#c0c0c0"/><rect x="868" y="652" width="1" height="14" fill="#c0c0c0"/><rect x="876" y="652" width="1" height="10" fill="#c0c0c0"/><rect x="884" y="652" width="1" height="8" fill="#c0c0c0"/><rect x="892" y="652" width="1" height="5" fill="#c0c0c0"/><rect x="900" y="652" width="1" height="4" fill="#c0c0c0"/><rect x="908" y="652" width="1" height="2" fill="#c0c0c0"/><rect x="916" y="652" width="1" height="2" fill="#c0c0c0"/><rect x="924" y="652" width="1" height="2" fill="#c0c0c0"/><rect x="932" y="652" width="1" height="1" fill="#c0c0c0"/><rect x="940" y="650" width="1" height="3" fill="#c0c0c0"/><rect x="948" y="649" width="1" height="4" fill="#c0c0c0"/><rect x="956" y="652" width="1" height="1" fill="#c0c0c0"/><rect x="964" y="652" width="1" height="2" fill="#c0c0c0"/><rect x="972" y="652" width="1" height="4" fill="#c0c0c0"/><rect x="980" y="652" width="1" height="5" fill="#c0c0c0"/><rect x="988" y="652" width="1" height="10" fill="#c0c0c0"/><rect x="996" y="652" width="1" height="16" fill="#c0c0c0"/><rect x="1004" y="652" width="1" height="18" fill="#c0c0c0"/><rect x="1012" y="652" width="1" height="19" fill="#c0c0c0"/><rect x="1020" y="652" width="1" height="20" fill="#c0c0c0"/><rect x="1028" y="652" width="1" height="21" fill="#c0c0c0"/><rect x="1036" y="652" width="1" height="20" fill="#c0c0c0"/><rect x="1044" y="652" width="1" height="19" fill="#c0c0c0"/><rect x="1052" y="652" width="1" height="18" fill="#c0c0c0"/><rect x="1060" y="652" width="1" height="18" fill="#c0c0c0"/><rect x="1068" y="652" width="1" height="18" fill="#c0c0c0"/><rect x="1076" y="652" width="1" height="19" fill="#c0c0c0"/><rect x="1084" y="652" width="1" height="23" fill="#c0c0c0"/><rect x="1092" y="652" width="1" height="30" fill="#c0c0c0"/><rect x="1100" y="652" width="1" height="34" fill="#c0c0c0"/><rect x="1108" y="652" width="1" height="39" fill="#c0c0c0"/><rect x="1116" y="652" width="1" height="44" fill="#c0c0c0"/><rect x="1124" y="652" width="1" height="48" fill="#c0c0c0"/><rect x="1132" y="652" width="1" height="47" fill="#c0c0c0"/><rect x="1140" y="652" width="1" height="47" fill="#c0c0c0"/><rect x="1148" y="652" width="1" height="48" fill="#c0c0c0"/><rect x="1156" y="652" width="1" height="53" fill="#c0c0c0"/><rect x="1164" y="652" width="1" height="54" fill="#c0c0c0"/><rect x="1172" y="652" width="1" height="53" fill="#c0c0c0"/><rect x="1180" y="652" width="1" height="52" fill="#c0c0c0"/><rect x="1188" y="652" width="1" height="46" fill="#c0c0c0"/><rect x="1196" y="652" width="1" height="45" fill="#c0c0c0"/><rect x="1204" y="652" width="1" height="53" fill="#c0c0c0"/><rect x="1212" y="652" width="1" height="60" fill="#c0c0c0"/><rect x="1220" y="652" width="1" height="61" fill="#c0c0c0"/><rect x="1228" y="652" width="1" height="63" fill="#c0c0c0"/><rect x="1236" y="652" width="1" height="63" fill="#c0c0c0"/><rect x="1244" y="652" width="1" height="69" fill="#c0c0c0"/><rect x="1252" y="652" width="1" height="75" fill="#c0c0c0"/><rect x="1260" y="652" width="1" height="76" fill="#c0c0c0"/><rect x="1268" y="652" width="1" height="74" fill="#c0c0c0"/><rect x="1276" y="652" width="1" height="74" fill="#c0c0c0"/><rect x="1284" y="652" width="1" height="75" fill="#c0c0c0"/><rect x="1292" y="652" width="1" height="85" fill="#c0c0c0"/><rect x="1300" y="652" width="1" height="92" fill="#c0c0c0"/><rect x="1308" y="652" width="1" height="84" fill="#c0c0c0"/><rect x="1316" y="652" width="1" height="83" fill="#c0c0c0"/><rect x="1324" y="652" width="1" height="79" fill="#c0c0c0"/><rect x="1332" y="652" width="1" height="76" fill="#c0c0c0"/><rect x="1340" y="652" width="1" height="76" fill="#c0c0c0"/><rect x="1348" y="652" width="1" height="64" fill="#c0c0c0"/><rect x="1356" y="652" width="1" height="58" fill="#c0c0c0"/><rect x="1364" y="652" width="1" height="52" fill="#c0c0c0"/><rect x="1372" y="652" width="1" height="48" fill="#c0c0c0"/><rect x="1380" y="652" width="1" height="37" fill="#c0c0c0"/><rect x="1388" y="652" width="1" height="32" fill="#c0c0c0"/><rect x="1396" y="652" width="1" height="31" fill="#c0c0c0"/><rect x="1404" y="652" width="1" height="32" fill="#c0c0c0"/><path d="M393 605.5h2M398 605.5h3M404 605.5h3M410 605.5h3M416 605.5h3M422 605.5h3M380 606.5h3M386 606.5h3M392 606.5h1M428 606.5h3M375 607.5h2M434 607.5h3M440 607.5h1M369 608.5h2M374 608.5h1M441 608.5h2M446 608.5h3M362 609.5h3M368 609.5h1M452 609.5h3M356 611.5h3M458 611.5h3M351 612.5h2M464 612.5h2M346 613.5h1M350 613.5h1M466 613.5h1M470 613.5h1M344 614.5h2M471 614.5h2M338 615.5h3M476 615.5h3M332 617.5h3M482 617.5h3M327 618.5h2M322 619.5h1M326 619.5h1M488 619.5h3M320 620.5h2M494 620.5h1M315 621.5h2M495 621.5h2M314 622.5h1M500 622.5h2M310 623.5h1M502 623.5h1M308 624.5h2M506 624.5h1M303 625.5h2M507 625.5h2M302 626.5h1M512 626.5h2M650 626.5h3M656 626.5h3M662 626.5h1M296 627.5h3M514 627.5h1M644 627.5h3M663 627.5h2M518 628.5h2M633 628.5h2M638 628.5h3M668 628.5h3M291 629.5h2M520 629.5h1M626 629.5h3M632 629.5h1M290 630.5h1M524 630.5h3M674 630.5h3M286 631.5h1M620 631.5h3M284 632.5h2M530 632.5h3M536 632.5h1M609 632.5h2M614 632.5h3M680 632.5h3M280 633.5h1M537 633.5h2M542 633.5h3M602 633.5h3M608 633.5h1M278 634.5h2M548 634.5h3M596 634.5h3M686 634.5h2M554 635.5h3M560 635.5h3M566 635.5h3M578 635.5h3M584 635.5h3M590 635.5h3M688 635.5h1M274 636.5h1M572 636.5h3M692 636.5h2M272 637.5h2M694 637.5h1M267 639.5h2M698 639.5h1M266 640.5h1M699 640.5h2M262 642.5h1M704 642.5h2M260 643.5h2M706 643.5h1M44 644.5h3M50 644.5h3M56 644.5h1M34 645.5h1M38 645.5h3M57 645.5h2M62 645.5h3M710 645.5h1M32 646.5h2M68 646.5h2M255 646.5h2M711 646.5h2M26 647.5h3M70 647.5h1M254 647.5h1M716 648.5h2M20 649.5h3M74 649.5h1M250 649.5h1M718 649.5h1M16 650.5h1M75 650.5h2M248 650.5h2M14 651.5h2M722 651.5h1M80 652.5h2M244 652.5h1M723 652.5h2M8 653.5h3M82 653.5h1M242 653.5h2M956 653.5h3M962 653.5h3M968 653.5h3M974 653.5h3M980 653.5h3M728 654.5h3M946 654.5h1M950 654.5h3M986 654.5h3M3 655.5h2M944 655.5h2M992 655.5h2M2 656.5h1M86 656.5h2M237 656.5h2M734 656.5h2M938 656.5h3M994 656.5h1M998 656.5h1M88 657.5h1M236 657.5h1M736 657.5h1M932 657.5h3M999 657.5h2M740 658.5h2M927 658.5h2M1004 658.5h3M742 659.5h1M926 659.5h1M92 660.5h1M231 660.5h2M746 660.5h1M920 660.5h3M1010 660.5h3M93 661.5h1M230 661.5h1M747 661.5h2M1016 661.5h2M94 662.5h1M752 662.5h2M914 662.5h3M1018 662.5h1M754 663.5h1M758 663.5h1M1022 663.5h2M98 664.5h1M225 664.5h2M759 664.5h2M908 664.5h3M1024 664.5h1M99 665.5h1M224 665.5h1M764 665.5h3M904 665.5h1M1028 665.5h3M100 666.5h1M902 666.5h2M770 667.5h3M776 667.5h1M898 667.5h1M1034 667.5h3M1040 667.5h1M220 668.5h1M777 668.5h2M782 668.5h3M896 668.5h2M1041 668.5h2M1046 668.5h1M104 669.5h1M218 669.5h2M788 669.5h3M891 669.5h2M1047 669.5h2M105 670.5h2M794 670.5h3M890 670.5h1M1052 670.5h3M800 671.5h2M886 671.5h1M1058 671.5h3M1064 671.5h3M1070 671.5h3M1076 671.5h3M1082 671.5h3M213 672.5h2M802 672.5h1M806 672.5h3M884 672.5h2M1088 672.5h2M212 673.5h1M812 673.5h3M879 673.5h2M1090 673.5h1M1094 673.5h3M110 674.5h1M874 674.5h1M878 674.5h1M1100 674.5h3M111 675.5h1M818 675.5h3M824 675.5h3M830 675.5h3M872 675.5h2M112 676.5h1M207 676.5h2M836 676.5h3M866 676.5h3M1106 676.5h3M206 677.5h1M842 677.5h3M848 677.5h3M854 677.5h3M860 677.5h3M1112 678.5h3M116 679.5h1M117 680.5h1M201 680.5h2M1118 680.5h2M118 681.5h1M200 681.5h1M1120 681.5h1M1124 682.5h2M1126 683.5h1M122 684.5h1M196 684.5h1M1130 684.5h1M123 685.5h1M194 685.5h2M1131 685.5h2M124 686.5h1M1136 687.5h2M128 688.5h1M189 688.5h2M1138 688.5h1M129 689.5h1M188 689.5h1M130 690.5h1M1142 690.5h2M183 691.5h2M1144 691.5h1M134 692.5h1M182 692.5h1M1148 692.5h2M135 693.5h2M1150 693.5h1M176 694.5h3M1154 694.5h1M140 695.5h2M1155 695.5h2M142 696.5h1M170 696.5h3M146 697.5h1M1160 697.5h3M147 698.5h2M152 698.5h1M164 698.5h3M1166 698.5h1M153 699.5h2M158 699.5h3M1167 699.5h2M1172 700.5h3M1404 700.5h1M1402 701.5h1M1178 702.5h3M1184 702.5h3M1190 702.5h3M1196 702.5h3M1202 702.5h3M1401 702.5h1M1208 703.5h2M1400 703.5h1M1210 704.5h1M1214 704.5h3M1220 705.5h3M1396 705.5h1M1226 706.5h3M1232 706.5h1M1394 706.5h2M1233 707.5h2M1238 707.5h1M1239 708.5h2M1244 709.5h3M1389 709.5h2M1388 710.5h1M1250 711.5h3M1256 713.5h2M1384 713.5h1M1258 714.5h1M1382 714.5h2M1262 716.5h2M1264 717.5h1M1378 717.5h1M1268 718.5h3M1377 718.5h1M1376 719.5h1M1274 720.5h3M1280 721.5h2M1372 721.5h1M1282 722.5h1M1370 722.5h2M1286 723.5h2M1288 724.5h1M1292 725.5h2M1365 725.5h2M1294 726.5h1M1364 726.5h1M1298 727.5h1M1299 728.5h2M1359 728.5h2M1304 729.5h2M1358 729.5h1M1306 730.5h1M1310 730.5h1M1354 730.5h1M1311 731.5h2M1352 731.5h2M1316 732.5h3M1322 732.5h3M1328 732.5h3M1334 732.5h3M1346 732.5h3M1340 733.5h3" fill="none" stroke="#ff0000" stroke-width="1"/><line x1="0" y1="789.5" x2="1647" y2="789.5" stroke="#c0c0c0" stroke-width="1" stroke-dasharray="3 3"/><line x1="0" y1="840.5" x2="1647" y2="840.5" stroke="#c0c0c0" stroke-width="1" stroke-dasharray="3 3"/><line x1="0" y1="901.5" x2="1647" y2="901.5" stroke="#c0c0c0" stroke-width="1" stroke-dasharray="3 3"/><path d="M347 793.5h2M346 794.5h1M349 794.5h2M343 795.5h3M351 795.5h2M342 796.5h1M353 796.5h1M402 796.5h3M340 797.5h2M354 797.5h2M378 797.5h3M399 797.5h3M405 797.5h1M338 798.5h2M356 798.5h13M375 798.5h3M381 798.5h2M395 798.5h4M406 798.5h2M436 798.5h2M596 798.5h1M337 799.5h1M369 799.5h6M383 799.5h2M394 799.5h1M408 799.5h1M435 799.5h1M438 799.5h2M595 799.5h1M597 799.5h1M335 800.5h2M385 800.5h1M391 800.5h3M409 800.5h2M433 800.5h2M440 800.5h3M595 800.5h1M598 800.5h1M314 801.5h7M333 801.5h2M386 801.5h2M390 801.5h1M411 801.5h1M432 801.5h1M443 801.5h6M594 801.5h1M599 801.5h1M311 802.5h3M321 802.5h12M388 802.5h2M412 802.5h3M430 802.5h2M449 802.5h4M593 802.5h1M600 802.5h2M307 803.5h4M415 803.5h3M429 803.5h1M452 803.5h1M592 803.5h1M602 803.5h1M304 804.5h3M418 804.5h11M453 804.5h1M592 804.5h1M603 804.5h1M259 805.5h2M302 805.5h2M453 805.5h1M591 805.5h1M604 805.5h1M258 806.5h1M261 806.5h1M300 806.5h2M453 806.5h1M590 806.5h1M605 806.5h1M255 807.5h3M262 807.5h1M299 807.5h1M454 807.5h1M589 807.5h1M606 807.5h1M254 808.5h1M263 808.5h1M298 808.5h1M454 808.5h1M589 808.5h1M606 808.5h1M644 808.5h1M252 809.5h2M264 809.5h1M298 809.5h1M454 809.5h1M588 809.5h1M607 809.5h1M642 809.5h3M251 810.5h1M264 810.5h1M297 810.5h1M455 810.5h1M586 810.5h2M608 810.5h1M641 810.5h1M645 810.5h1M249 811.5h2M265 811.5h1M296 811.5h1M455 811.5h1M585 811.5h1M609 811.5h1M639 811.5h2M645 811.5h1M248 812.5h1M266 812.5h1M295 812.5h1M455 812.5h1M583 812.5h2M610 812.5h1M637 812.5h2M645 812.5h1M246 813.5h2M267 813.5h1M294 813.5h1M456 813.5h1M581 813.5h2M610 813.5h1M634 813.5h3M645 813.5h1M245 814.5h1M268 814.5h9M294 814.5h1M456 814.5h1M579 814.5h2M611 814.5h1M631 814.5h3M646 814.5h1M0 815.5h5M243 815.5h2M277 815.5h1M293 815.5h1M457 815.5h1M540 815.5h1M576 815.5h3M612 815.5h2M627 815.5h4M646 815.5h1M4 816.5h1M242 816.5h1M278 816.5h1M292 816.5h1M457 816.5h1M539 816.5h2M574 816.5h2M614 816.5h1M626 816.5h1M646 816.5h1M5 817.5h1M239 817.5h3M279 817.5h1M290 817.5h2M457 817.5h1M538 817.5h1M541 817.5h1M572 817.5h2M615 817.5h3M623 817.5h3M646 817.5h1M5 818.5h1M238 818.5h1M280 818.5h2M289 818.5h1M458 818.5h1M537 818.5h1M541 818.5h1M570 818.5h2M618 818.5h1M622 818.5h1M647 818.5h1M5 819.5h1M233 819.5h5M282 819.5h1M287 819.5h2M458 819.5h1M536 819.5h1M542 819.5h1M569 819.5h1M619 819.5h3M647 819.5h1M6 820.5h1M220 820.5h13M283 820.5h1M285 820.5h2M458 820.5h1M535 820.5h1M542 820.5h1M567 820.5h2M647 820.5h1M6 821.5h1M218 821.5h2M284 821.5h1M459 821.5h1M534 821.5h1M542 821.5h1M565 821.5h2M647 821.5h1M6 822.5h1M217 822.5h1M459 822.5h1M522 822.5h7M533 822.5h1M543 822.5h1M562 822.5h3M648 822.5h1M7 823.5h1M215 823.5h2M459 823.5h1M519 823.5h3M529 823.5h4M543 823.5h1M559 823.5h3M648 823.5h1M7 824.5h1M213 824.5h2M460 824.5h1M500 824.5h1M516 824.5h3M544 824.5h1M556 824.5h3M648 824.5h1M7 825.5h1M204 825.5h9M460 825.5h1M499 825.5h1M501 825.5h1M515 825.5h1M544 825.5h1M555 825.5h1M649 825.5h1M8 826.5h1M203 826.5h1M461 826.5h1M498 826.5h1M502 826.5h2M513 826.5h2M544 826.5h1M555 826.5h1M649 826.5h1M8 827.5h1M201 827.5h2M462 827.5h1M496 827.5h2M504 827.5h1M512 827.5h1M545 827.5h1M554 827.5h1M649 827.5h1M8 828.5h1M200 828.5h1M462 828.5h1M495 828.5h1M505 828.5h2M510 828.5h2M545 828.5h1M553 828.5h1M649 828.5h1M940 828.5h1M8 829.5h1M198 829.5h2M463 829.5h1M494 829.5h1M507 829.5h1M509 829.5h1M546 829.5h1M552 829.5h1M650 829.5h1M939 829.5h1M941 829.5h1M9 830.5h1M197 830.5h1M464 830.5h1M493 830.5h1M508 830.5h1M546 830.5h1M552 830.5h1M650 830.5h1M938 830.5h1M942 830.5h1M9 831.5h1M196 831.5h1M465 831.5h1M475 831.5h2M492 831.5h1M546 831.5h1M551 831.5h1M650 831.5h1M936 831.5h2M942 831.5h1M9 832.5h1M195 832.5h1M466 832.5h1M474 832.5h1M477 832.5h1M491 832.5h1M547 832.5h1M550 832.5h1M650 832.5h1M935 832.5h1M943 832.5h1M10 833.5h1M193 833.5h2M466 833.5h1M471 833.5h3M478 833.5h2M489 833.5h2M547 833.5h1M549 833.5h1M651 833.5h1M934 833.5h1M944 833.5h1M10 834.5h1M192 834.5h1M467 834.5h1M470 834.5h1M480 834.5h1M488 834.5h1M548 834.5h2M651 834.5h1M933 834.5h1M945 834.5h1M10 835.5h1M36 835.5h2M169 835.5h14M190 835.5h2M468 835.5h2M481 835.5h2M486 835.5h2M548 835.5h1M651 835.5h1M890 835.5h4M932 835.5h1M946 835.5h1M1380 835.5h1M11 836.5h1M19 836.5h2M35 836.5h1M38 836.5h1M164 836.5h5M183 836.5h3M189 836.5h1M483 836.5h1M485 836.5h1M651 836.5h1M867 836.5h14M887 836.5h3M894 836.5h1M907 836.5h2M931 836.5h1M946 836.5h1M1379 836.5h1M1381 836.5h1M11 837.5h1M18 837.5h1M21 837.5h2M33 837.5h2M39 837.5h3M163 837.5h1M186 837.5h3M484 837.5h1M652 837.5h1M864 837.5h3M881 837.5h6M895 837.5h3M904 837.5h3M909 837.5h2M930 837.5h1M947 837.5h1M1379 837.5h1M1382 837.5h2M11 838.5h1M15 838.5h3M23 838.5h2M32 838.5h1M42 838.5h1M163 838.5h1M652 838.5h1M862 838.5h2M898 838.5h1M902 838.5h2M911 838.5h2M929 838.5h1M948 838.5h1M1378 838.5h1M1384 838.5h1M12 839.5h1M14 839.5h1M25 839.5h1M30 839.5h2M43 839.5h2M162 839.5h1M653 839.5h1M857 839.5h5M899 839.5h3M913 839.5h1M928 839.5h1M949 839.5h1M1378 839.5h1M1385 839.5h2M12 840.5h2M26 840.5h2M29 840.5h1M44 840.5h1M161 840.5h1M653 840.5h1M852 840.5h5M914 840.5h2M927 840.5h1M950 840.5h1M1348 840.5h1M1377 840.5h1M1387 840.5h1M28 841.5h1M45 841.5h1M161 841.5h1M654 841.5h1M852 841.5h1M916 841.5h3M926 841.5h1M951 841.5h1M1348 841.5h2M1377 841.5h1M1388 841.5h1M45 842.5h1M160 842.5h1M655 842.5h1M851 842.5h1M919 842.5h3M925 842.5h1M952 842.5h1M1347 842.5h1M1350 842.5h1M1376 842.5h1M1389 842.5h1M46 843.5h1M159 843.5h1M656 843.5h1M851 843.5h1M922 843.5h3M952 843.5h1M1347 843.5h1M1351 843.5h1M1375 843.5h1M1390 843.5h2M46 844.5h1M159 844.5h1M656 844.5h1M850 844.5h1M953 844.5h1M1347 844.5h1M1352 844.5h2M1375 844.5h1M1392 844.5h1M47 845.5h1M158 845.5h1M657 845.5h1M850 845.5h1M954 845.5h1M1346 845.5h1M1354 845.5h1M1374 845.5h1M1393 845.5h2M47 846.5h1M157 846.5h1M658 846.5h1M684 846.5h1M748 846.5h1M850 846.5h1M955 846.5h1M1188 846.5h1M1346 846.5h1M1355 846.5h1M1361 846.5h5M1374 846.5h1M1395 846.5h1M48 847.5h1M157 847.5h1M659 847.5h1M683 847.5h1M685 847.5h1M748 847.5h2M835 847.5h2M849 847.5h1M956 847.5h2M971 847.5h10M1188 847.5h2M1346 847.5h1M1356 847.5h5M1366 847.5h2M1373 847.5h1M1396 847.5h2M48 848.5h1M153 848.5h4M659 848.5h1M681 848.5h2M685 848.5h1M747 848.5h1M750 848.5h1M780 848.5h2M834 848.5h1M837 848.5h1M849 848.5h1M958 848.5h1M970 848.5h1M980 848.5h1M1187 848.5h1M1189 848.5h1M1345 848.5h1M1368 848.5h3M1373 848.5h1M1398 848.5h1M49 849.5h1M148 849.5h5M660 849.5h1M680 849.5h1M686 849.5h1M747 849.5h1M751 849.5h1M779 849.5h1M782 849.5h2M831 849.5h3M837 849.5h1M849 849.5h1M959 849.5h3M967 849.5h3M981 849.5h1M1187 849.5h1M1190 849.5h1M1345 849.5h1M1371 849.5h2M1399 849.5h3M49 850.5h1M147 850.5h1M661 850.5h1M678 850.5h2M687 850.5h1M746 850.5h1M752 850.5h1M778 850.5h1M784 850.5h3M817 850.5h8M830 850.5h1M838 850.5h1M848 850.5h1M962 850.5h1M966 850.5h1M981 850.5h1M1036 850.5h5M1186 850.5h1M1190 850.5h1M1345 850.5h1M1402 850.5h1M50 851.5h1M145 851.5h2M661 851.5h1M677 851.5h1M687 851.5h1M746 851.5h1M752 851.5h1M777 851.5h1M787 851.5h2M812 851.5h5M825 851.5h5M838 851.5h1M848 851.5h1M963 851.5h3M982 851.5h1M1034 851.5h2M1041 851.5h20M1186 851.5h1M1191 851.5h1M1344 851.5h1M1403 851.5h2M50 852.5h1M144 852.5h1M662 852.5h1M676 852.5h1M688 852.5h1M745 852.5h1M753 852.5h1M776 852.5h1M788 852.5h1M811 852.5h1M839 852.5h1M847 852.5h1M982 852.5h1M1033 852.5h1M1061 852.5h1M1185 852.5h1M1192 852.5h1M1308 852.5h1M1344 852.5h1M51 853.5h1M142 853.5h2M663 853.5h1M675 853.5h1M689 853.5h1M745 853.5h1M754 853.5h1M775 853.5h1M789 853.5h1M810 853.5h1M839 853.5h1M847 853.5h1M983 853.5h1M1031 853.5h2M1062 853.5h2M1185 853.5h1M1192 853.5h1M1308 853.5h2M1343 853.5h1M51 854.5h1M141 854.5h1M663 854.5h1M674 854.5h1M689 854.5h1M699 854.5h6M745 854.5h1M755 854.5h1M774 854.5h1M789 854.5h1M808 854.5h2M840 854.5h1M847 854.5h1M983 854.5h1M1009 854.5h5M1029 854.5h2M1064 854.5h1M1185 854.5h1M1193 854.5h1M1307 854.5h1M1310 854.5h1M1343 854.5h1M52 855.5h1M137 855.5h4M664 855.5h1M673 855.5h1M690 855.5h1M698 855.5h1M705 855.5h20M744 855.5h1M756 855.5h1M773 855.5h1M789 855.5h1M807 855.5h1M841 855.5h1M846 855.5h1M984 855.5h1M1004 855.5h5M1014 855.5h2M1026 855.5h3M1065 855.5h2M1184 855.5h1M1194 855.5h1M1307 855.5h1M1311 855.5h1M1343 855.5h1M52 856.5h2M131 856.5h6M665 856.5h1M672 856.5h1M691 856.5h1M695 856.5h3M725 856.5h2M744 856.5h1M757 856.5h2M771 856.5h2M790 856.5h1M806 856.5h1M841 856.5h1M846 856.5h1M984 856.5h1M1003 856.5h1M1016 856.5h3M1023 856.5h3M1067 856.5h1M1184 856.5h1M1194 856.5h1M1307 856.5h1M1312 856.5h1M1342 856.5h1M54 857.5h1M130 857.5h1M665 857.5h1M672 857.5h1M691 857.5h1M694 857.5h1M727 857.5h2M743 857.5h1M759 857.5h2M770 857.5h1M790 857.5h1M805 857.5h1M842 857.5h1M846 857.5h1M985 857.5h1M1003 857.5h1M1019 857.5h4M1068 857.5h2M1183 857.5h1M1195 857.5h1M1307 857.5h1M1313 857.5h1M1323 857.5h6M1342 857.5h1M55 858.5h3M127 858.5h3M666 858.5h1M671 858.5h1M692 858.5h2M729 858.5h1M743 858.5h1M761 858.5h1M767 858.5h3M790 858.5h1M804 858.5h1M842 858.5h1M845 858.5h1M985 858.5h1M1002 858.5h1M1070 858.5h2M1183 858.5h1M1195 858.5h1M1306 858.5h1M1314 858.5h1M1320 858.5h3M1329 858.5h4M1342 858.5h1M58 859.5h1M126 859.5h1M667 859.5h1M670 859.5h1M730 859.5h2M743 859.5h1M762 859.5h2M766 859.5h1M791 859.5h1M804 859.5h1M843 859.5h1M845 859.5h1M986 859.5h1M1002 859.5h1M1072 859.5h3M1183 859.5h1M1196 859.5h1M1306 859.5h1M1315 859.5h1M1318 859.5h2M1333 859.5h2M1341 859.5h1M59 860.5h3M124 860.5h2M667 860.5h1M669 860.5h1M732 860.5h1M742 860.5h1M764 860.5h2M791 860.5h1M803 860.5h1M843 860.5h2M986 860.5h1M1001 860.5h1M1075 860.5h2M1132 860.5h1M1182 860.5h1M1197 860.5h1M1306 860.5h1M1316 860.5h2M1335 860.5h2M1341 860.5h1M62 861.5h1M124 861.5h1M668 861.5h1M733 861.5h2M742 861.5h1M791 861.5h1M803 861.5h1M844 861.5h1M987 861.5h1M1000 861.5h1M1077 861.5h1M1132 861.5h3M1182 861.5h1M1197 861.5h1M1306 861.5h1M1337 861.5h1M1341 861.5h1M63 862.5h3M123 862.5h1M735 862.5h2M741 862.5h1M792 862.5h1M802 862.5h1M987 862.5h1M1000 862.5h1M1077 862.5h1M1131 862.5h1M1135 862.5h2M1181 862.5h1M1198 862.5h1M1305 862.5h1M1338 862.5h3M66 863.5h1M123 863.5h1M737 863.5h1M741 863.5h1M792 863.5h1M802 863.5h1M988 863.5h1M999 863.5h1M1078 863.5h1M1131 863.5h1M1137 863.5h1M1181 863.5h1M1198 863.5h1M1236 863.5h1M1305 863.5h1M1340 863.5h1M67 864.5h2M122 864.5h1M738 864.5h3M792 864.5h1M801 864.5h1M988 864.5h2M998 864.5h1M1079 864.5h1M1131 864.5h1M1138 864.5h2M1180 864.5h1M1199 864.5h1M1234 864.5h2M1237 864.5h1M1267 864.5h3M1305 864.5h1M69 865.5h1M122 865.5h1M740 865.5h1M792 865.5h1M801 865.5h1M990 865.5h1M998 865.5h1M1079 865.5h1M1130 865.5h1M1140 865.5h2M1177 865.5h4M1199 865.5h1M1233 865.5h1M1237 865.5h1M1266 865.5h1M1270 865.5h2M1305 865.5h1M70 866.5h1M121 866.5h1M793 866.5h1M800 866.5h1M991 866.5h3M997 866.5h1M1080 866.5h1M1130 866.5h1M1142 866.5h1M1164 866.5h13M1200 866.5h1M1220 866.5h3M1231 866.5h2M1238 866.5h1M1263 866.5h3M1272 866.5h3M1304 866.5h1M71 867.5h1M121 867.5h1M793 867.5h1M800 867.5h1M994 867.5h1M997 867.5h1M1081 867.5h1M1130 867.5h1M1143 867.5h3M1163 867.5h1M1201 867.5h1M1219 867.5h1M1223 867.5h3M1229 867.5h2M1238 867.5h1M1262 867.5h1M1275 867.5h2M1304 867.5h1M72 868.5h1M120 868.5h1M793 868.5h1M800 868.5h1M995 868.5h2M1081 868.5h1M1129 868.5h1M1146 868.5h1M1163 868.5h1M1201 868.5h1M1218 868.5h1M1226 868.5h3M1239 868.5h1M1260 868.5h2M1277 868.5h2M1304 868.5h1M72 869.5h1M120 869.5h1M794 869.5h1M799 869.5h1M1082 869.5h1M1129 869.5h1M1147 869.5h2M1162 869.5h1M1202 869.5h1M1218 869.5h1M1240 869.5h1M1259 869.5h1M1279 869.5h2M1304 869.5h1M73 870.5h1M119 870.5h1M794 870.5h1M799 870.5h1M1083 870.5h1M1129 870.5h1M1149 870.5h1M1161 870.5h1M1202 870.5h1M1217 870.5h1M1240 870.5h1M1258 870.5h1M1281 870.5h1M1303 870.5h1M74 871.5h1M119 871.5h1M794 871.5h1M798 871.5h1M1083 871.5h1M1128 871.5h1M1150 871.5h1M1161 871.5h1M1203 871.5h1M1216 871.5h1M1241 871.5h1M1258 871.5h1M1282 871.5h2M1303 871.5h1M75 872.5h1M118 872.5h1M795 872.5h1M798 872.5h1M1084 872.5h1M1100 872.5h1M1128 872.5h1M1151 872.5h1M1160 872.5h1M1203 872.5h1M1215 872.5h1M1242 872.5h1M1257 872.5h1M1284 872.5h1M1303 872.5h1M76 873.5h2M100 873.5h1M118 873.5h1M795 873.5h1M797 873.5h1M1085 873.5h1M1099 873.5h1M1101 873.5h2M1128 873.5h1M1152 873.5h1M1159 873.5h1M1204 873.5h2M1214 873.5h1M1242 873.5h1M1256 873.5h1M1285 873.5h1M1303 873.5h1M78 874.5h1M99 874.5h1M101 874.5h1M117 874.5h1M795 874.5h1M797 874.5h1M1085 874.5h1M1099 874.5h1M1103 874.5h2M1127 874.5h1M1152 874.5h1M1159 874.5h1M1206 874.5h2M1214 874.5h1M1243 874.5h1M1255 874.5h1M1285 874.5h1M1302 874.5h1M79 875.5h3M98 875.5h1M102 875.5h1M117 875.5h1M796 875.5h1M1086 875.5h1M1098 875.5h1M1105 875.5h1M1127 875.5h1M1153 875.5h1M1158 875.5h1M1208 875.5h3M1213 875.5h1M1243 875.5h1M1254 875.5h1M1286 875.5h1M1302 875.5h1M82 876.5h1M97 876.5h1M102 876.5h1M116 876.5h1M796 876.5h1M1086 876.5h1M1098 876.5h1M1106 876.5h2M1127 876.5h1M1154 876.5h1M1157 876.5h1M1211 876.5h2M1244 876.5h3M1254 876.5h1M1287 876.5h1M1302 876.5h1M83 877.5h3M96 877.5h1M103 877.5h1M116 877.5h1M1087 877.5h1M1097 877.5h1M1108 877.5h2M1126 877.5h1M1155 877.5h1M1157 877.5h1M1247 877.5h3M1253 877.5h1M1287 877.5h1M1302 877.5h1M86 878.5h1M95 878.5h1M104 878.5h1M115 878.5h1M1088 878.5h1M1096 878.5h1M1110 878.5h1M1126 878.5h1M1156 878.5h1M1250 878.5h3M1288 878.5h1M1301 878.5h1M87 879.5h3M94 879.5h1M105 879.5h1M113 879.5h2M1088 879.5h1M1096 879.5h1M1111 879.5h3M1126 879.5h1M1289 879.5h1M1301 879.5h1M90 880.5h1M93 880.5h1M106 880.5h1M112 880.5h1M1089 880.5h1M1095 880.5h1M1114 880.5h1M1125 880.5h1M1289 880.5h1M1301 880.5h1M91 881.5h2M106 881.5h1M110 881.5h2M1090 881.5h1M1094 881.5h1M1115 881.5h3M1125 881.5h1M1290 881.5h1M1301 881.5h1M107 882.5h1M109 882.5h1M1090 882.5h1M1094 882.5h1M1118 882.5h2M1125 882.5h1M1291 882.5h1M1300 882.5h1M108 883.5h1M1091 883.5h1M1093 883.5h1M1120 883.5h3M1124 883.5h1M1291 883.5h1M1297 883.5h4M1091 884.5h1M1093 884.5h1M1123 884.5h2M1292 884.5h5M1092 885.5h1" fill="none" stroke="#1e90ff" stroke-width="1"/><rect x="0" y="26" width="1648" height="1" fill="#000"/><rect x="0" y="593" width="1648" height="1" fill="#000"/><rect x="1647" y="26" width="1" height="568" fill="#000"/><rect x="0" y="595" width="1648" height="1" fill="#000"/><rect x="0" y="751" width="1648" height="1" fill="#000"/><rect x="1647" y="595" width="1" height="157" fill="#000"/><rect x="0" y="753" width="1648" height="1" fill="#000"/><rect x="0" y="927" width="1648" height="1" fill="#000"/><rect x="1647" y="753" width="1" height="175" fill="#000"/><rect x="1648" y="29" width="2" height="1" fill="#000"/><rect x="1648" y="62" width="2" height="1" fill="#000"/><rect x="1648" y="95" width="2" height="1" fill="#000"/><rect x="1648" y="128" width="2" height="1" fill="#000"/><rect x="1648" y="161" width="2" height="1" fill="#000"/><rect x="1648" y="194" width="2" height="1" fill="#000"/><rect x="1648" y="227" width="2" height="1" fill="#000"/><rect x="1648" y="260" width="2" height="1" fill="#000"/><rect x="1648" y="293" width="2" height="1" fill="#000"/><rect x="1648" y="326" width="2" height="1" fill="#000"/><rect x="1648" y="359" width="2" height="1" fill="#000"/><rect x="1648" y="392" width="2" height="1" fill="#000"/><rect x="1648" y="425" width="2" height="1" fill="#000"/><rect x="1648" y="458" width="2" height="1" fill="#000"/><rect x="1648" y="491" width="2" height="1" fill="#000"/><rect x="1648" y="524" width="2" height="1" fill="#000"/><rect x="1648" y="557" width="2" height="1" fill="#000"/><rect x="1648" y="590" width="2" height="1" fill="#000"/><rect x="1648" y="597" width="2" height="1" fill="#000"/><rect x="1648" y="652" width="2" height="1" fill="#000"/><rect x="1648" y="754" width="1" height="1" fill="#000"/><rect x="1648" y="926" width="1" height="1" fill="#000"/><rect x="52" y="928" width="1" height="3" fill="#000"/><rect x="116" y="928" width="1" height="3" fill="#000"/><rect x="180" y="928" width="1" height="3" fill="#000"/><rect x="244" y="928" width="1" height="3" fill="#000"/><rect x="308" y="928" width="1" height="3" fill="#000"/><rect x="372" y="928" width="1" height="3" fill="#000"/><rect x="436" y="928" width="1" height="3" fill="#000"/><rect x="500" y="928" width="1" height="3" fill="#000"/><rect x="564" y="928" width="1" height="3" fill="#000"/><rect x="628" y="928" width="1" height="3" fill="#000"/><rect x="692" y="928" width="1" height="3" fill="#000"/><rect x="756" y="928" width="1" height="3" fill="#000"/><rect x="820" y="928" width="1" height="3" fill="#000"/><rect x="884" y="928" width="1" height="3" fill="#000"/><rect x="948" y="928" width="1" height="3" fill="#000"/><rect x="1012" y="928" width="1" height="3" fill="#000"/><rect x="1076" y="928" width="1" height="3" fill="#000"/><rect x="1140" y="928" width="1" height="3" fill="#000"/><rect x="1204" y="928" width="1" height="3" fill="#000"/><rect x="1268" y="928" width="1" height="3" fill="#000"/><rect x="1332" y="928" width="1" height="3" fill="#000"/><rect x="1396" y="928" width="1" height="3" fill="#000"/></g><line x1="1295.0" y1="577.0" x2="1303.8" y2="415.5" stroke="#ff0000" stroke-width="3.0"/><polygon points="1304.4,404.5 1309.3,415.8 1298.3,415.2" fill="#ff0000"/><line x1="1309.5" y1="405.0" x2="1340.4" y2="509.5" stroke="#ff0000" stroke-width="3.0"/><polygon points="1343.5,520.0 1335.1,511.0 1345.7,507.9" fill="#ff0000"/><line x1="1343.5" y1="520.0" x2="1386.5" y2="366.1" stroke="#ff0000" stroke-width="3.0"/><polygon points="1389.5,355.5 1391.8,367.6 1381.2,364.6" fill="#ff0000"/><line x1="1389.5" y1="357.0" x2="1412.3" y2="476.0" stroke="#ff0000" stroke-width="3.0"/><polygon points="1414.4,486.8 1406.9,477.0 1417.7,475.0" fill="#ff0000"/><rect x="1245" y="417" width="210" height="7" fill="#00ff00" shape-rendering="crispEdges"/><line x1="1314.5" y1="735.0" x2="1379.1" y2="684.0" stroke="#ff0000" stroke-width="3.1"/><polygon points="1387.0,677.8 1382.1,687.8 1376.2,680.2" fill="#ff0000"/><line x1="1386.5" y1="678.5" x2="1415.0" y2="692.2" stroke="#ff0000" stroke-width="3.1"/><polygon points="1424.0,696.5 1412.9,696.5 1417.1,687.8" fill="#ff0000"/><line x1="1300.5" y1="868.5" x2="1373.0" y2="839.1" stroke="#ff0000" stroke-width="3.1"/><polygon points="1382.3,835.3 1374.8,843.5 1371.2,834.6" fill="#ff0000"/><line x1="1381.5" y1="836.0" x2="1411.5" y2="850.3" stroke="#ff0000" stroke-width="3.1"/><polygon points="1420.5,854.6 1409.4,854.6 1413.5,846.0" fill="#ff0000"/><g shape-rendering="crispEdges"><rect x="106" y="370" width="11" height="1" fill="#ff0000"/><rect x="1053" y="421" width="10" height="1" fill="#ff0000"/><rect x="1379" y="349" width="10" height="1" fill="#ff0000"/><rect x="1291" y="579" width="10" height="1" fill="#ff0000"/></g><rect x="45.5" y="362.5" width="61" height="17" fill="#fff" stroke="#ff0000" stroke-width="1" shape-rendering="crispEdges"/><text transform="translate(76.0,376.8) scale(1,1)" font-size="16.3" fill="#ff0000" text-anchor="middle">34544.7</text><rect x="1063.5" y="409.5" width="74" height="24" fill="#fff" stroke="#ff0000" stroke-width="1" shape-rendering="crispEdges"/><text transform="translate(1100.5,429.3) scale(0.9,1)" font-size="21.6" fill="#ff0000" text-anchor="middle">34177.1</text><rect x="1317.5" y="340.5" width="61" height="18" fill="#fff" stroke="#ff0000" stroke-width="1" shape-rendering="crispEdges"/><text transform="translate(1348.0,355.8) scale(1,1)" font-size="16.3" fill="#ff0000" text-anchor="middle">34696.2</text><rect x="1229.5" y="570.5" width="61" height="18" fill="#fff" stroke="#ff0000" stroke-width="1" shape-rendering="crispEdges"/><text transform="translate(1260.0,585.6) scale(1,1)" font-size="16.3" fill="#ff0000" text-anchor="middle">33037.0</text><rect x="1379.5" y="347.5" width="2" height="3" fill="#fff" stroke="#ff0000" stroke-width="1" shape-rendering="crispEdges"/><text text-rendering="geometricPrecision" transform="translate(1653,33) scale(0.921,1)" font-size="10.0" fill="#000" stroke="#000" stroke-width="0.22">37010.0</text><text text-rendering="geometricPrecision" transform="translate(1653,66) scale(0.921,1)" font-size="10.0" fill="#000" stroke="#000" stroke-width="0.22">36772.0</text><text text-rendering="geometricPrecision" transform="translate(1653,99) scale(0.921,1)" font-size="10.0" fill="#000" stroke="#000" stroke-width="0.22">36534.0</text><text text-rendering="geometricPrecision" transform="translate(1653,132) scale(0.921,1)" font-size="10.0" fill="#000" stroke="#000" stroke-width="0.22">36296.0</text><text text-rendering="geometricPrecision" transform="translate(1653,165) scale(0.921,1)" font-size="10.0" fill="#000" stroke="#000" stroke-width="0.22">36051.0</text><text text-rendering="geometricPrecision" transform="translate(1653,198) scale(0.921,1)" font-size="10.0" fill="#000" stroke="#000" stroke-width="0.22">35813.0</text><text text-rendering="geometricPrecision" transform="translate(1653,231) scale(0.921,1)" font-size="10.0" fill="#000" stroke="#000" stroke-width="0.22">35575.0</text><text text-rendering="geometricPrecision" transform="translate(1653,264) scale(0.921,1)" font-size="10.0" fill="#000" stroke="#000" stroke-width="0.22">35337.0</text><text text-rendering="geometricPrecision" transform="translate(1653,297) scale(0.921,1)" font-size="10.0" fill="#000" stroke="#000" stroke-width="0.22">35099.0</text><text text-rendering="geometricPrecision" transform="translate(1653,330) scale(0.921,1)" font-size="10.0" fill="#000" stroke="#000" stroke-width="0.22">34861.0</text><text text-rendering="geometricPrecision" transform="translate(1653,429) scale(0.921,1)" font-size="10.0" fill="#000" stroke="#000" stroke-width="0.22">34147.0</text><text text-rendering="geometricPrecision" transform="translate(1653,462) scale(0.921,1)" font-size="10.0" fill="#000" stroke="#000" stroke-width="0.22">33909.0</text><text text-rendering="geometricPrecision" transform="translate(1653,495) scale(0.921,1)" font-size="10.0" fill="#000" stroke="#000" stroke-width="0.22">33671.0</text><text text-rendering="geometricPrecision" transform="translate(1653,528) scale(0.921,1)" font-size="10.0" fill="#000" stroke="#000" stroke-width="0.22">33433.0</text><text text-rendering="geometricPrecision" transform="translate(1653,561) scale(0.921,1)" font-size="10.0" fill="#000" stroke="#000" stroke-width="0.22">33195.0</text><text text-rendering="geometricPrecision" transform="translate(1653,594) scale(0.921,1)" font-size="10.0" fill="#000" stroke="#000" stroke-width="0.22">32957.0</text><rect x="1649" y="355" width="41" height="11" fill="#ff0000" shape-rendering="crispEdges"/><text text-rendering="geometricPrecision" transform="translate(1653,364) scale(0.921,1)" font-size="10.0" fill="#fff" stroke="#fff" stroke-width="0.22">34609.6</text><rect x="1649" y="389" width="41" height="11" fill="#ff0000" shape-rendering="crispEdges"/><text text-rendering="geometricPrecision" transform="translate(1653,398) scale(0.921,1)" font-size="10.0" fill="#fff" stroke="#fff" stroke-width="0.22">34364.3</text><rect x="1649" y="415" width="41" height="11" fill="#32cd32" shape-rendering="crispEdges"/><text text-rendering="geometricPrecision" transform="translate(1653,424) scale(0.921,1)" font-size="10.0" fill="#fff" stroke="#fff" stroke-width="0.22">34177.1</text><rect x="1649" y="438" width="41" height="11" fill="#000000" shape-rendering="crispEdges"/><text text-rendering="geometricPrecision" transform="translate(1653,447) scale(0.921,1)" font-size="10.0" fill="#fff" stroke="#fff" stroke-width="0.22">34018.0</text><rect x="1649" y="467" width="41" height="11" fill="#0000ff" shape-rendering="crispEdges"/><text text-rendering="geometricPrecision" transform="translate(1653,476) scale(0.921,1)" font-size="10.0" fill="#fff" stroke="#fff" stroke-width="0.22">33801.7</text><rect x="1649" y="497" width="41" height="11" fill="#0000ff" shape-rendering="crispEdges"/><text text-rendering="geometricPrecision" transform="translate(1653,506) scale(0.921,1)" font-size="10.0" fill="#fff" stroke="#fff" stroke-width="0.22">33585.2</text><text text-rendering="geometricPrecision" transform="translate(1651,606) scale(0.921,1)" font-size="10.0" fill="#000" stroke="#000" stroke-width="0.22">255.34</text><text text-rendering="geometricPrecision" transform="translate(1651,656) scale(0.921,1)" font-size="10.0" fill="#000" stroke="#000" stroke-width="0.22">0.00</text><text text-rendering="geometricPrecision" transform="translate(1651,748) scale(0.921,1)" font-size="10.0" fill="#000" stroke="#000" stroke-width="0.22">-448.57</text><text text-rendering="geometricPrecision" transform="translate(1650,763.6) scale(0.921,1)" font-size="10.0" fill="#000" stroke="#000" stroke-width="0.22">100</text><text text-rendering="geometricPrecision" transform="translate(1650,793) scale(0.921,1)" font-size="10.0" fill="#000" stroke="#000" stroke-width="0.22">80</text><text text-rendering="geometricPrecision" transform="translate(1650,843.5) scale(0.921,1)" font-size="10.0" fill="#000" stroke="#000" stroke-width="0.22">50</text><text text-rendering="geometricPrecision" transform="translate(1650,905) scale(0.921,1)" font-size="10.0" fill="#000" stroke="#000" stroke-width="0.22">15</text><text text-rendering="geometricPrecision" transform="translate(1650,924) scale(0.921,1)" font-size="10.0" fill="#000" stroke="#000" stroke-width="0.22">0</text><text text-rendering="geometricPrecision" transform="translate(2.6,38) scale(0.933,1)" font-size="10.0" fill="#000" stroke="#000" stroke-width="0.22">DJ30-,H4&#160;&#160;34181.0 34187.0 33748.0 34018.0</text><text text-rendering="geometricPrecision" transform="translate(-7.5,608) scale(0.939,1)" font-size="10.0" fill="#000" stroke="#000" stroke-width="0.22">MACD(12,26,9) -143.57 -213.81</text><text text-rendering="geometricPrecision" transform="translate(-8,766) scale(0.948,1)" font-size="10.0" fill="#000" stroke="#000" stroke-width="0.22">RSI(14) 43.3113</text><text text-rendering="geometricPrecision" transform="translate(51,940) scale(0.924,1)" font-size="10.0" fill="#000" stroke="#000" stroke-width="0.22">17 Dec 12:00</text><text text-rendering="geometricPrecision" transform="translate(115,940) scale(0.924,1)" font-size="10.0" fill="#000" stroke="#000" stroke-width="0.22">20 Dec 16:00</text><text text-rendering="geometricPrecision" transform="translate(179,940) scale(0.924,1)" font-size="10.0" fill="#000" stroke="#000" stroke-width="0.22">22 Dec 00:00</text><text text-rendering="geometricPrecision" transform="translate(243,940) scale(0.924,1)" font-size="10.0" fill="#000" stroke="#000" stroke-width="0.22">23 Dec 08:00</text><text text-rendering="geometricPrecision" transform="translate(307,940) scale(0.924,1)" font-size="10.0" fill="#000" stroke="#000" stroke-width="0.22">27 Dec 16:00</text><text text-rendering="geometricPrecision" transform="translate(371,940) scale(0.924,1)" font-size="10.0" fill="#000" stroke="#000" stroke-width="0.22">29 Dec 00:00</text><text text-rendering="geometricPrecision" transform="translate(435,940) scale(0.924,1)" font-size="10.0" fill="#000" stroke="#000" stroke-width="0.22">30 Dec 08:00</text><text text-rendering="geometricPrecision" transform="translate(499,940) scale(0.924,1)" font-size="10.0" fill="#000" stroke="#000" stroke-width="0.22">31 Dec 16:00</text><text text-rendering="geometricPrecision" transform="translate(563,940) scale(0.924,1)" font-size="10.0" fill="#000" stroke="#000" stroke-width="0.22">3 Jan 20:00</text><text text-rendering="geometricPrecision" transform="translate(627,940) scale(0.924,1)" font-size="10.0" fill="#000" stroke="#000" stroke-width="0.22">5 Jan 04:00</text><text text-rendering="geometricPrecision" transform="translate(691,940) scale(0.924,1)" font-size="10.0" fill="#000" stroke="#000" stroke-width="0.22">6 Jan 12:00</text><text text-rendering="geometricPrecision" transform="translate(755,940) scale(0.924,1)" font-size="10.0" fill="#000" stroke="#000" stroke-width="0.22">7 Jan 20:00</text><text text-rendering="geometricPrecision" transform="translate(819,940) scale(0.924,1)" font-size="10.0" fill="#000" stroke="#000" stroke-width="0.22">11 Jan 00:00</text><text text-rendering="geometricPrecision" transform="translate(883,940) scale(0.924,1)" font-size="10.0" fill="#000" stroke="#000" stroke-width="0.22">12 Jan 08:00</text><text text-rendering="geometricPrecision" transform="translate(947,940) scale(0.924,1)" font-size="10.0" fill="#000" stroke="#000" stroke-width="0.22">13 Jan 16:00</text><text text-rendering="geometricPrecision" transform="translate(1011,940) scale(0.924,1)" font-size="10.0" fill="#000" stroke="#000" stroke-width="0.22">16 Jan 23:00</text><text text-rendering="geometricPrecision" transform="translate(1075,940) scale(0.924,1)" font-size="10.0" fill="#000" stroke="#000" stroke-width="0.22">18 Jan 04:00</text><text text-rendering="geometricPrecision" transform="translate(1139,940) scale(0.924,1)" font-size="10.0" fill="#000" stroke="#000" stroke-width="0.22">19 Jan 12:00</text><text text-rendering="geometricPrecision" transform="translate(1203,940) scale(0.924,1)" font-size="10.0" fill="#000" stroke="#000" stroke-width="0.22">20 Jan 20:00</text><text text-rendering="geometricPrecision" transform="translate(1267,940) scale(0.924,1)" font-size="10.0" fill="#000" stroke="#000" stroke-width="0.22">24 Jan 00:00</text><text text-rendering="geometricPrecision" transform="translate(1331,940) scale(0.924,1)" font-size="10.0" fill="#000" stroke="#000" stroke-width="0.22">25 Jan 08:00</text><text text-rendering="geometricPrecision" transform="translate(1395,940) scale(0.924,1)" font-size="10.0" fill="#000" stroke="#000" stroke-width="0.22">26 Jan 16:00</text><text text-rendering="geometricPrecision" transform="translate(-12.5,940) scale(0.933,1)" font-size="10.0" fill="#000" stroke="#000" stroke-width="0.22">16 Dec 2021</text><polygon points="1408.5,27 1418.5,27 1413.5,32" fill="#b4b4b4"/><polygon points="10,26 13.4,26 11.7,28.4" fill="#fff"/><polyline points="9.6,26.5 11.7,28.9 13.8,26.5" fill="none" stroke="#000" stroke-width="1.1"/></svg>
<div style="position:absolute;left:0;top:46px;width:210px;height:57px;background:linear-gradient(#5656f4 0%,#3a3ae0 38%,#2c2cd8 44%,#1414bc 70%,#0000a4 100%);"></div>
<div style="position:absolute;left:43px;top:46px;width:115px;height:24px;background:#fff"></div>
<div style="position:absolute;left:100px;top:70px;width:2px;height:33px;background:#fff"></div>
<div style="position:absolute;left:0;top:70px;width:39px;height:1px;background:#8a8af0"></div>
<div style="position:absolute;left:162px;top:70px;width:44px;height:1px;background:#8a8af0"></div>
<div style="position:absolute;left:45px;top:46px;width:111px;height:22px;border:1px solid #a8a8a8;box-sizing:border-box;background:#fff"></div>
<div style="position:absolute;left:46px;top:47px;width:20px;height:20px;background:linear-gradient(#f4f4f4,#d4d4d4);border-right:1px solid #b8b8b8;box-sizing:border-box"></div>
<div style="position:absolute;left:135px;top:47px;width:20px;height:20px;background:linear-gradient(#f4f4f4,#d4d4d4);border-left:1px solid #b8b8b8;box-sizing:border-box"></div>
<svg style="position:absolute;left:52px;top:54px" width="8" height="5"><polygon points="0.5,0.5 6.5,0.5 3.5,4" fill="#4a5ac0"/></svg>
<svg style="position:absolute;left:141px;top:54px" width="8" height="5"><polygon points="0.5,4 6.5,4 3.5,0.5" fill="#4a5ac0"/></svg>
<div style="position:absolute;left:70px;top:50px;width:61px;text-align:right;font-size:11.8px;line-height:12px;color:#000">1.00</div>
<div style="position:absolute;left:3.3px;top:50.5px;font-size:12.2px;line-height:13px;color:#fff;transform-origin:0 0;transform:scaleX(0.88)">SELL</div>
<div style="position:absolute;left:171.2px;top:50.5px;font-size:12.2px;line-height:13px;color:#fff;transform-origin:0 0;transform:scaleX(0.93)">BUY</div>
<div style="position:absolute;left:7.3px;top:87.6px;font-size:12.5px;line-height:12px;color:#fff;font-weight:bold;letter-spacing:0.3px">34016</div>
<div style="position:absolute;left:117.3px;top:87.6px;font-size:12.5px;line-height:12px;color:#fff;font-weight:bold;letter-spacing:0.3px">34029</div>
<div style="position:absolute;left:45.6px;top:68.4px;font-size:33.5px;line-height:36px;color:#fff;transform-origin:0 0;transform:scaleX(0.86);white-space:nowrap">.5</div>
<div style="position:absolute;left:156.6px;top:68.4px;font-size:33.5px;line-height:36px;color:#fff;transform-origin:0 0;transform:scaleX(0.86);white-space:nowrap">.5</div>

</body></html>
